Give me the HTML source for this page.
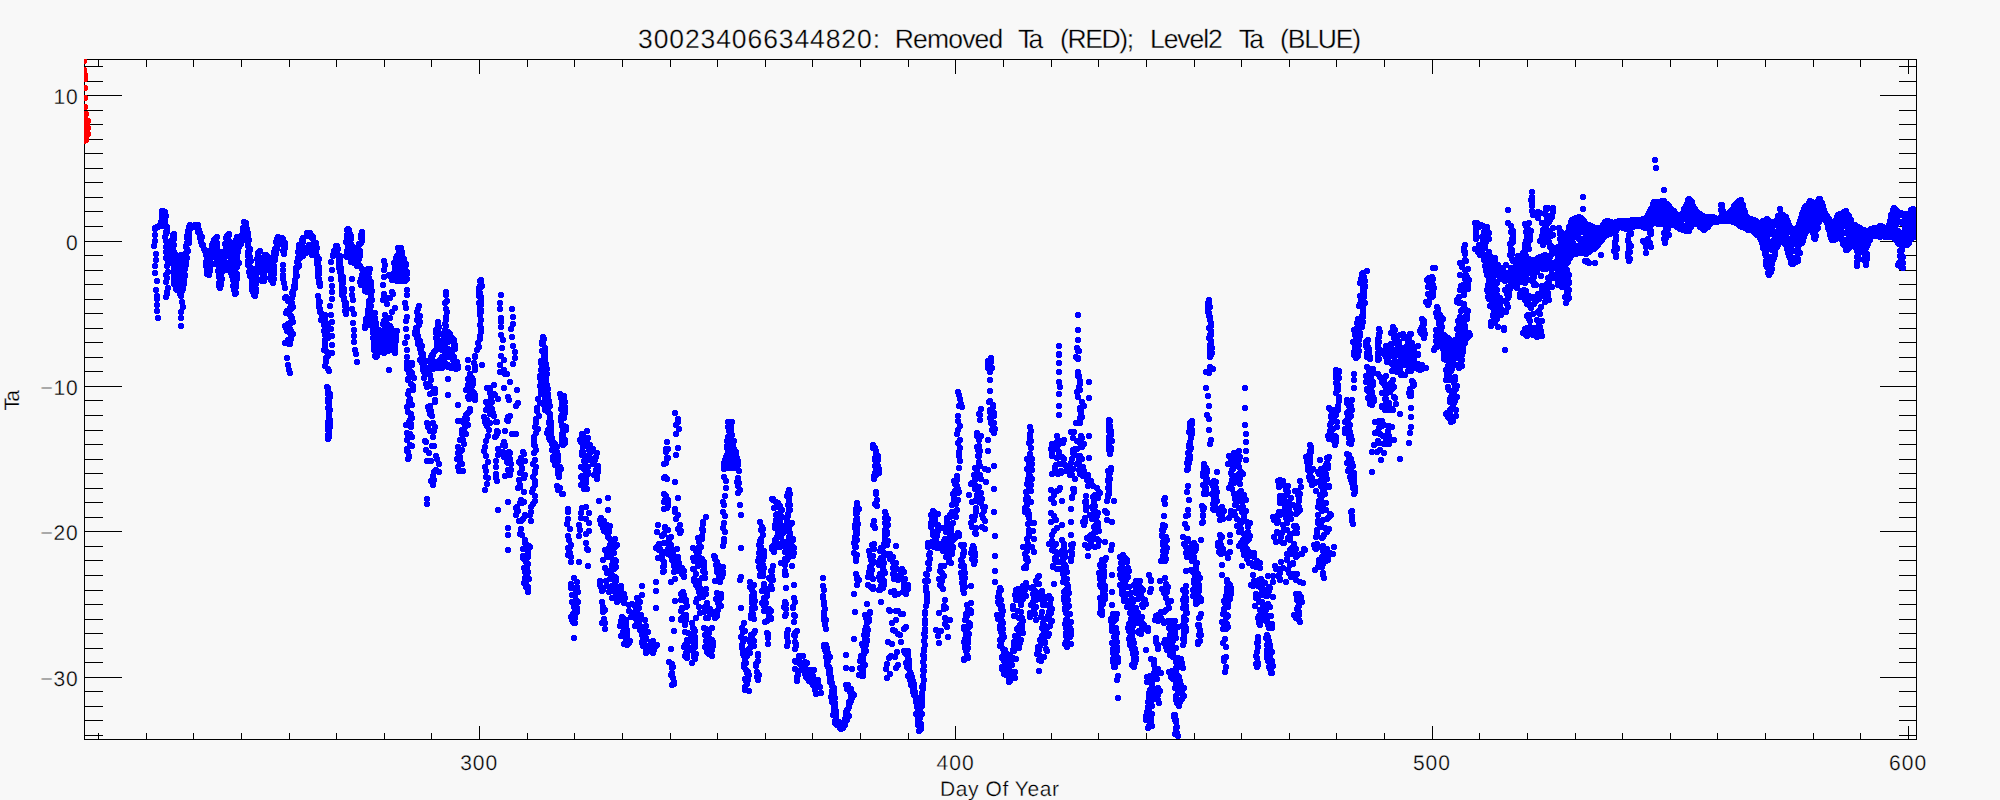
<!DOCTYPE html>
<html><head><meta charset="utf-8"><title>300234066344820: Removed Ta (RED); Level2 Ta (BLUE)</title>
<style>html,body{margin:0;padding:0;background:#f8f8f8;overflow:hidden}svg{display:block}</style></head>
<body>
<svg width="2000" height="800" viewBox="0 0 2000 800" shape-rendering="crispEdges">
<rect width="2000" height="800" fill="#f8f8f8"/>
<defs><clipPath id="pc"><rect x="84" y="59" width="1832" height="680"/></clipPath></defs>
<path d="M84.5 59.5H1916.5V739.5H84.5ZM98.5 739.5v-7M98.5 59.5v7M146.5 739.5v-7M146.5 59.5v7M193.5 739.5v-7M193.5 59.5v7M241.5 739.5v-7M241.5 59.5v7M289.5 739.5v-7M289.5 59.5v7M336.5 739.5v-7M336.5 59.5v7M384.5 739.5v-7M384.5 59.5v7M431.5 739.5v-7M431.5 59.5v7M479.5 739.5v-14M479.5 59.5v14M527.5 739.5v-7M527.5 59.5v7M574.5 739.5v-7M574.5 59.5v7M622.5 739.5v-7M622.5 59.5v7M670.5 739.5v-7M670.5 59.5v7M717.5 739.5v-7M717.5 59.5v7M765.5 739.5v-7M765.5 59.5v7M812.5 739.5v-7M812.5 59.5v7M860.5 739.5v-7M860.5 59.5v7M908.5 739.5v-7M908.5 59.5v7M955.5 739.5v-14M955.5 59.5v14M1003.5 739.5v-7M1003.5 59.5v7M1051.5 739.5v-7M1051.5 59.5v7M1098.5 739.5v-7M1098.5 59.5v7M1146.5 739.5v-7M1146.5 59.5v7M1194.5 739.5v-7M1194.5 59.5v7M1241.5 739.5v-7M1241.5 59.5v7M1289.5 739.5v-7M1289.5 59.5v7M1336.5 739.5v-7M1336.5 59.5v7M1384.5 739.5v-7M1384.5 59.5v7M1432.5 739.5v-14M1432.5 59.5v14M1479.5 739.5v-7M1479.5 59.5v7M1527.5 739.5v-7M1527.5 59.5v7M1575.5 739.5v-7M1575.5 59.5v7M1622.5 739.5v-7M1622.5 59.5v7M1670.5 739.5v-7M1670.5 59.5v7M1717.5 739.5v-7M1717.5 59.5v7M1765.5 739.5v-7M1765.5 59.5v7M1813.5 739.5v-7M1813.5 59.5v7M1860.5 739.5v-7M1860.5 59.5v7M1908.5 739.5v-14M1908.5 59.5v14M84.5 735.5h18M1916.5 735.5h-18M84.5 720.5h18M1916.5 720.5h-18M84.5 706.5h18M1916.5 706.5h-18M84.5 691.5h18M1916.5 691.5h-18M84.5 677.5h37M1916.5 677.5h-37M84.5 662.5h18M1916.5 662.5h-18M84.5 648.5h18M1916.5 648.5h-18M84.5 633.5h18M1916.5 633.5h-18M84.5 619.5h18M1916.5 619.5h-18M84.5 604.5h18M1916.5 604.5h-18M84.5 590.5h18M1916.5 590.5h-18M84.5 575.5h18M1916.5 575.5h-18M84.5 560.5h18M1916.5 560.5h-18M84.5 546.5h18M1916.5 546.5h-18M84.5 531.5h37M1916.5 531.5h-37M84.5 517.5h18M1916.5 517.5h-18M84.5 502.5h18M1916.5 502.5h-18M84.5 488.5h18M1916.5 488.5h-18M84.5 473.5h18M1916.5 473.5h-18M84.5 459.5h18M1916.5 459.5h-18M84.5 444.5h18M1916.5 444.5h-18M84.5 430.5h18M1916.5 430.5h-18M84.5 415.5h18M1916.5 415.5h-18M84.5 400.5h18M1916.5 400.5h-18M84.5 386.5h37M1916.5 386.5h-37M84.5 371.5h18M1916.5 371.5h-18M84.5 357.5h18M1916.5 357.5h-18M84.5 342.5h18M1916.5 342.5h-18M84.5 328.5h18M1916.5 328.5h-18M84.5 313.5h18M1916.5 313.5h-18M84.5 299.5h18M1916.5 299.5h-18M84.5 284.5h18M1916.5 284.5h-18M84.5 270.5h18M1916.5 270.5h-18M84.5 255.5h18M1916.5 255.5h-18M84.5 241.5h37M1916.5 241.5h-37M84.5 226.5h18M1916.5 226.5h-18M84.5 211.5h18M1916.5 211.5h-18M84.5 197.5h18M1916.5 197.5h-18M84.5 182.5h18M1916.5 182.5h-18M84.5 168.5h18M1916.5 168.5h-18M84.5 153.5h18M1916.5 153.5h-18M84.5 139.5h18M1916.5 139.5h-18M84.5 124.5h18M1916.5 124.5h-18M84.5 110.5h18M1916.5 110.5h-18M84.5 95.5h37M1916.5 95.5h-37M84.5 81.5h18M1916.5 81.5h-18M84.5 66.5h18M1916.5 66.5h-18" fill="none" stroke="#000" stroke-width="1"/>
<path d="M158 318h0M157 311h0M157 305h0M157 299h0M157 296h0M156 290h0M157 281h0M155 273h0M155 266h0M156 260h0M156 254h0M154 246h0M155 241h0M155 235h0M155 229h0M155 228h0M157 227h0M158 227h0M159 226h0M161 226h0M162 223h0M161 222h0M163 221h0M162 217h0M163 218h0M162 215h0M162 213h0M162 211h0M163 211h0M165 212h0M165 216h0M166 216h0M165 220h0M164 220h0M165 222h0M165 225h0M166 227h0M167 227h0M167 232h0M166 232h0M167 231h0M166 234h0M165 237h0M166 241h0M168 245h0M166 247h0M166 252h0M167 256h0M166 258h0M168 261h0M168 264h0M167 266h0M168 272h0M166 275h0M167 278h0M166 282h0M168 288h0M167 292h0M167 294h0M166 297h0M168 244h0M169 245h0M167 246h0M170 250h0M169 251h0M170 253h0M171 254h0M172 256h0M172 259h0M170 258h0M172 260h0M173 262h0M173 260h0M173 258h0M173 255h0M171 253h0M173 251h0M172 251h0M173 249h0M172 246h0M171 244h0M173 241h0M173 238h0M174 238h0M174 237h0M173 235h0M174 234h0M173 237h0M174 239h0M173 240h0M172 240h0M172 242h0M174 245h0M173 246h0M174 252h0M173 253h0M174 253h0M175 254h0M174 256h0M175 259h0M176 261h0M173 261h0M175 262h0M174 266h0M174 265h0M175 269h0M174 270h0M174 272h0M176 271h0M174 276h0M175 276h0M175 277h0M175 278h0M174 280h0M175 283h0M176 283h0M174 284h0M177 286h0M176 289h0M177 288h0M177 289h0M177 290h0M177 287h0M176 285h0M176 281h0M178 282h0M176 278h0M177 277h0M177 274h0M177 272h0M177 271h0M177 270h0M177 267h0M176 266h0M177 266h0M179 265h0M179 262h0M180 260h0M179 258h0M181 258h0M181 255h0M180 257h0M181 260h0M179 260h0M179 263h0M181 264h0M182 268h0M181 270h0M182 272h0M183 274h0M182 276h0M182 278h0M181 278h0M181 281h0M182 284h0M182 285h0M180 287h0M183 289h0M181 290h0M182 291h0M180 294h0M181 296h0M182 302h0M183 307h0M181 312h0M181 318h0M181 326h0M183 286h0M184 284h0M182 281h0M184 281h0M183 278h0M182 279h0M185 276h0M184 274h0M185 275h0M184 273h0M184 270h0M185 269h0M185 266h0M186 265h0M184 264h0M186 262h0M185 261h0M184 258h0M187 258h0M185 254h0M186 253h0M188 251h0M187 249h0M186 247h0M186 246h0M189 243h0M187 243h0M189 242h0M187 238h0M189 238h0M187 236h0M189 235h0M188 231h0M189 231h0M189 229h0M189 227h0M190 225h0M191 227h0M191 228h0M192 227h0M194 227h0M195 225h0M196 227h0M198 225h0M197 228h0M197 227h0M199 230h0M199 233h0M198 232h0M200 233h0M201 236h0M202 237h0M200 238h0M201 242h0M201 241h0M203 245h0M202 244h0M202 245h0M204 249h0M205 251h0M205 250h0M207 252h0M207 254h0M206 255h0M207 259h0M209 258h0M208 261h0M206 262h0M209 262h0M209 263h0M208 267h0M206 266h0M207 270h0M208 272h0M207 274h0M209 275h0M210 271h0M208 268h0M209 269h0M210 267h0M210 265h0M208 260h0M210 258h0M211 258h0M209 254h0M211 253h0M211 252h0M212 252h0M211 250h0M213 247h0M212 245h0M212 246h0M213 243h0M214 240h0M215 241h0M215 239h0M217 237h0M216 243h0M217 243h0M217 246h0M217 247h0M216 246h0M216 249h0M218 251h0M217 254h0M216 254h0M218 257h0M217 258h0M218 261h0M218 264h0M218 265h0M219 269h0M220 270h0M218 271h0M221 271h0M219 274h0M219 276h0M219 277h0M221 278h0M221 282h0M219 283h0M221 284h0M219 286h0M220 288h0M220 285h0M221 285h0M220 284h0M220 282h0M220 281h0M222 279h0M221 277h0M221 276h0M222 272h0M222 271h0M223 270h0M222 268h0M222 267h0M222 265h0M221 265h0M223 261h0M223 263h0M224 262h0M225 257h0M224 258h0M223 255h0M223 252h0M224 252h0M226 248h0M227 247h0M226 246h0M225 244h0M227 244h0M227 241h0M227 240h0M227 239h0M226 238h0M227 236h0M229 234h0M229 235h0M228 239h0M229 241h0M228 240h0M230 243h0M231 243h0M231 244h0M230 246h0M230 249h0M230 250h0M230 253h0M230 252h0M232 255h0M230 255h0M231 257h0M231 261h0M231 262h0M232 262h0M231 265h0M232 266h0M231 266h0M233 269h0M232 268h0M234 271h0M231 273h0M233 274h0M232 274h0M232 276h0M234 279h0M233 280h0M234 282h0M234 284h0M235 283h0M233 286h0M235 287h0M234 289h0M235 292h0M236 293h0M235 294h0M235 291h0M234 290h0M236 287h0M236 285h0M236 282h0M235 282h0M236 278h0M237 279h0M235 275h0M237 276h0M237 274h0M235 271h0M235 270h0M234 268h0M237 267h0M237 266h0M237 263h0M236 263h0M237 261h0M237 259h0M235 257h0M237 258h0M237 256h0M236 254h0M238 252h0M236 250h0M237 247h0M236 248h0M238 246h0M237 243h0M236 243h0M236 240h0M237 238h0M237 237h0M238 238h0M239 241h0M238 242h0M239 243h0M241 244h0M239 247h0M239 246h0M240 245h0M240 243h0M242 241h0M241 240h0M244 239h0M242 237h0M242 235h0M243 235h0M244 233h0M243 232h0M245 231h0M244 229h0M243 228h0M245 226h0M245 223h0M244 222h0M246 223h0M246 226h0M246 228h0M247 229h0M246 231h0M247 230h0M248 233h0M247 234h0M247 236h0M248 237h0M247 240h0M249 240h0M248 242h0M248 243h0M248 246h0M250 249h0M250 250h0M248 252h0M249 253h0M248 256h0M250 257h0M249 258h0M248 261h0M251 261h0M249 263h0M248 265h0M249 265h0M250 267h0M250 270h0M249 272h0M251 271h0M251 273h0M252 276h0M250 276h0M252 278h0M252 280h0M253 281h0M252 284h0M253 283h0M253 287h0M254 288h0M252 288h0M252 290h0M253 292h0M255 292h0M254 295h0M255 296h0M255 295h0M255 294h0M256 292h0M256 289h0M255 288h0M255 287h0M256 284h0M255 284h0M255 283h0M255 280h0M257 279h0M255 276h0M256 276h0M255 274h0M257 270h0M255 269h0M257 269h0M258 267h0M258 265h0M258 262h0M257 259h0M259 259h0M259 258h0M258 255h0M258 254h0M260 251h0M258 253h0M260 258h0M258 257h0M261 261h0M260 260h0M260 262h0M260 264h0M263 264h0M260 265h0M261 269h0M260 271h0M263 272h0M262 273h0M263 274h0M263 275h0M263 278h0M262 279h0M264 280h0M262 281h0M264 281h0M263 281h0M263 279h0M265 278h0M264 274h0M264 273h0M264 270h0M265 268h0M264 264h0M266 260h0M266 261h0M265 259h0M267 258h0M265 255h0M266 255h0M267 256h0M268 257h0M269 260h0M268 261h0M268 262h0M271 264h0M270 265h0M269 267h0M271 268h0M270 268h0M270 271h0M272 273h0M271 275h0M270 278h0M271 278h0M273 279h0M273 283h0M271 280h0M271 279h0M272 280h0M274 279h0M273 276h0M274 274h0M273 275h0M273 272h0M274 272h0M272 268h0M274 269h0M272 267h0M274 266h0M273 264h0M275 260h0M275 258h0M274 257h0M274 256h0M276 254h0M274 252h0M275 253h0M277 249h0M275 249h0M277 246h0M278 245h0M276 242h0M278 242h0M279 240h0M277 239h0M278 237h0M282 238h0M283 239h0M283 240h0M283 244h0M285 243h0M285 245h0M284 249h0M285 248h0M283 251h0M284 251h0M284 254h0M207 266h0M208 263h0M211 264h0M214 264h0M213 264h0M217 262h0M217 264h0M219 263h0M220 267h0M221 268h0M222 269h0M225 269h0M227 270h0M227 267h0M226 267h0M229 264h0M230 262h0M232 263h0M233 263h0M239 263h0M238 262h0M283 265h0M283 270h0M283 275h0M283 279h0M284 283h0M285 288h0M286 297h0M285 298h0M288 301h0M290 300h0M291 304h0M292 303h0M292 304h0M293 307h0M291 309h0M290 308h0M287 311h0M287 313h0M286 313h0M289 313h0M289 314h0M291 316h0M291 317h0M292 318h0M292 320h0M293 322h0M290 323h0M290 324h0M288 324h0M288 325h0M285 326h0M286 328h0M287 331h0M290 329h0M291 331h0M290 332h0M290 333h0M293 334h0M291 337h0M291 339h0M290 340h0M288 341h0M288 340h0M285 343h0M289 344h0M290 344h0M287 358h0M288 365h0M289 370h0M292 298h0M293 295h0M292 293h0M293 291h0M293 292h0M295 288h0M295 286h0M294 286h0M295 284h0M295 282h0M295 280h0M296 276h0M297 276h0M296 273h0M296 271h0M296 268h0M298 267h0M299 266h0M299 265h0M297 262h0M298 260h0M300 258h0M298 258h0M299 254h0M300 254h0M298 252h0M299 251h0M301 249h0M299 247h0M299 245h0M301 246h0M303 242h0M302 240h0M303 238h0M307 236h0M307 233h0M310 233h0M311 235h0M313 237h0M312 238h0M313 239h0M314 242h0M316 243h0M314 246h0M316 246h0M317 248h0M316 249h0M315 251h0M316 253h0M316 254h0M317 256h0M316 256h0M317 260h0M319 259h0M318 260h0M317 264h0M318 263h0M318 267h0M319 267h0M319 268h0M319 270h0M318 271h0M318 274h0M319 274h0M318 275h0M318 277h0M319 279h0M320 283h0M319 283h0M320 285h0M320 286h0M303 256h0M305 253h0M306 253h0M304 250h0M305 249h0M306 248h0M307 248h0M309 245h0M310 245h0M310 248h0M309 249h0M312 250h0M312 251h0M312 255h0M318 296h0M319 301h0M320 302h0M319 302h0M319 305h0M319 307h0M320 309h0M320 311h0M320 310h0M320 312h0M322 314h0M322 316h0M322 318h0M321 320h0M324 319h0M323 318h0M325 317h0M325 315h0M325 316h0M325 319h0M325 320h0M324 324h0M324 325h0M325 325h0M325 327h0M324 331h0M326 330h0M326 327h0M327 324h0M329 328h0M328 329h0M327 329h0M327 332h0M327 335h0M325 335h0M328 337h0M328 338h0M325 340h0M325 344h0M325 348h0M324 350h0M326 351h0M331 353h0M328 356h0M326 358h0M326 362h0M325 366h0M328 369h0M329 371h0M332 353h0M332 345h0M332 336h0M331 329h0M332 322h0M331 315h0M330 306h0M332 299h0M332 292h0M332 286h0M331 279h0M332 270h0M331 262h0M333 256h0M333 255h0M334 254h0M334 251h0M336 251h0M336 248h0M337 246h0M336 246h0M337 249h0M338 249h0M337 250h0M337 252h0M338 256h0M340 256h0M340 257h0M339 261h0M340 260h0M340 264h0M339 265h0M340 267h0M341 268h0M339 268h0M341 269h0M340 272h0M341 272h0M341 273h0M341 277h0M343 277h0M341 280h0M343 280h0M343 283h0M342 283h0M342 287h0M344 289h0M342 290h0M344 292h0M342 293h0M342 295h0M343 296h0M344 298h0M344 300h0M346 303h0M345 303h0M346 305h0M345 306h0M347 309h0M345 311h0M346 312h0M346 313h0M346 314h0M347 257h0M347 256h0M346 256h0M347 254h0M347 251h0M349 249h0M348 246h0M348 247h0M349 244h0M346 242h0M347 240h0M347 239h0M347 237h0M348 237h0M347 235h0M348 231h0M349 230h0M347 230h0M348 229h0M348 230h0M348 232h0M349 232h0M350 234h0M351 236h0M351 239h0M349 239h0M349 243h0M351 244h0M351 246h0M352 246h0M352 249h0M352 251h0M351 252h0M350 252h0M352 256h0M353 256h0M351 257h0M351 260h0M351 262h0M354 263h0M352 279h0M352 289h0M352 295h0M353 300h0M352 309h0M354 314h0M353 323h0M354 330h0M354 336h0M354 342h0M355 350h0M356 354h0M357 362h0M362 232h0M361 235h0M362 235h0M361 238h0M362 238h0M362 239h0M362 241h0M359 244h0M361 243h0M359 245h0M358 247h0M360 251h0M358 251h0M360 252h0M358 255h0M357 257h0M360 256h0M357 259h0M359 259h0M358 261h0M358 265h0M357 266h0M358 264h0M359 266h0M360 266h0M362 269h0M363 272h0M362 275h0M363 275h0M363 277h0M361 279h0M360 282h0M363 281h0M361 285h0M363 284h0M363 283h0M364 281h0M365 279h0M365 278h0M365 276h0M366 274h0M367 271h0M369 271h0M368 270h0M368 269h0M369 270h0M370 269h0M369 273h0M367 273h0M368 275h0M369 278h0M368 280h0M366 281h0M367 282h0M367 283h0M366 285h0M366 287h0M365 290h0M365 291h0M367 292h0M367 291h0M367 289h0M369 287h0M369 288h0M371 286h0M370 283h0M371 282h0M370 281h0M371 283h0M371 285h0M371 288h0M369 289h0M372 291h0M370 290h0M369 292h0M371 294h0M371 297h0M371 298h0M372 300h0M369 301h0M369 304h0M371 306h0M369 306h0M370 309h0M368 310h0M369 311h0M368 313h0M369 314h0M368 315h0M367 318h0M366 319h0M366 322h0M366 323h0M365 326h0M366 326h0M365 328h0M367 325h0M368 323h0M369 321h0M368 319h0M370 321h0M371 318h0M372 316h0M373 314h0M372 313h0M373 313h0M375 313h0M373 317h0M374 316h0M375 318h0M373 321h0M374 323h0M376 323h0M376 327h0M374 327h0M375 330h0M372 321h0M373 320h0M372 324h0M372 326h0M373 327h0M375 328h0M373 328h0M374 329h0M373 330h0M373 333h0M374 335h0M373 338h0M374 340h0M374 342h0M376 343h0M374 345h0M374 347h0M375 348h0M375 350h0M374 350h0M376 354h0M377 354h0M376 357h0M377 356h0M375 356h0M376 356h0M377 353h0M378 353h0M376 351h0M376 349h0M378 347h0M377 346h0M379 344h0M376 342h0M378 340h0M377 338h0M379 336h0M379 332h0M380 332h0M379 330h0M378 334h0M381 336h0M381 337h0M381 339h0M380 342h0M382 341h0M382 343h0M381 345h0M381 347h0M383 350h0M383 352h0M384 353h0M381 351h0M382 349h0M384 346h0M382 345h0M383 344h0M383 341h0M384 341h0M382 339h0M383 338h0M383 336h0M385 334h0M385 333h0M385 332h0M384 330h0M385 326h0M383 324h0M385 324h0M384 321h0M386 320h0M386 322h0M384 323h0M387 324h0M386 326h0M386 329h0M385 331h0M387 331h0M386 333h0M387 335h0M386 334h0M388 336h0M387 337h0M387 341h0M388 341h0M387 345h0M388 345h0M389 347h0M387 347h0M388 351h0M387 349h0M387 348h0M387 344h0M388 346h0M387 342h0M388 340h0M387 338h0M388 339h0M388 337h0M390 335h0M389 332h0M389 331h0M390 328h0M391 328h0M390 326h0M389 327h0M390 329h0M390 327h0M391 331h0M392 330h0M392 334h0M392 336h0M393 337h0M391 338h0M391 340h0M392 341h0M391 342h0M392 344h0M393 346h0M394 350h0M394 351h0M395 353h0M395 352h0M393 350h0M395 347h0M395 348h0M394 344h0M395 346h0M394 343h0M396 341h0M396 339h0M394 339h0M396 336h0M395 334h0M395 333h0M397 331h0M384 261h0M385 265h0M384 270h0M384 277h0M383 285h0M384 294h0M384 298h0M389 275h0M392 276h0M391 277h0M392 279h0M393 279h0M393 278h0M395 278h0M396 276h0M396 272h0M394 273h0M396 269h0M395 269h0M395 265h0M396 267h0M396 262h0M396 263h0M399 262h0M397 260h0M396 258h0M397 256h0M399 256h0M400 253h0M399 253h0M398 248h0M400 248h0M401 248h0M399 250h0M402 252h0M401 253h0M402 255h0M401 257h0M403 259h0M404 259h0M403 262h0M406 264h0M406 265h0M404 268h0M404 267h0M405 270h0M407 272h0M404 272h0M407 274h0M405 278h0M407 279h0M404 281h0M405 281h0M404 279h0M400 281h0M400 279h0M397 281h0M396 280h0M392 280h0M407 290h0M407 295h0M405 303h0M406 308h0M407 317h0M406 321h0M406 329h0M407 337h0M405 343h0M407 350h0M407 357h0M407 365h0M383 300h0M387 298h0M392 292h0M393 294h0M390 298h0M387 304h0M395 308h0M392 312h0M385 315h0M390 318h0M419 306h0M418 309h0M417 312h0M418 315h0M420 316h0M419 319h0M418 319h0M417 320h0M420 322h0M419 325h0M416 328h0M417 330h0M417 331h0M417 332h0M415 332h0M415 334h0M418 337h0M418 336h0M417 338h0M418 341h0M420 341h0M418 344h0M421 345h0M420 345h0M422 346h0M421 349h0M420 349h0M421 353h0M423 354h0M422 358h0M423 357h0M424 360h0M424 361h0M422 363h0M424 365h0M423 367h0M423 370h0M424 371h0M412 365h0M414 378h0M446 292h0M446 295h0M447 301h0M445 303h0M446 309h0M447 312h0M446 317h0M446 320h0M445 324h0M446 326h0M438 322h0M438 323h0M438 325h0M439 327h0M438 329h0M437 330h0M438 331h0M439 334h0M437 337h0M436 338h0M437 339h0M438 341h0M437 344h0M438 343h0M437 347h0M438 348h0M437 348h0M436 350h0M434 352h0M432 355h0M433 355h0M432 358h0M431 357h0M431 359h0M432 363h0M431 362h0M431 364h0M432 368h0M430 369h0M428 370h0M427 369h0M429 372h0M426 373h0M445 330h0M445 331h0M448 333h0M448 332h0M450 334h0M450 335h0M452 338h0M453 339h0M454 340h0M454 341h0M454 344h0M455 345h0M455 349h0M454 348h0M454 349h0M452 351h0M452 353h0M451 355h0M453 356h0M454 357h0M453 360h0M455 362h0M457 362h0M457 365h0M457 364h0M458 366h0M458 368h0M456 369h0M437 341h0M442 341h0M443 345h0M442 344h0M443 344h0M444 347h0M446 349h0M448 349h0M451 350h0M449 351h0M448 351h0M445 354h0M446 354h0M445 356h0M442 357h0M443 357h0M441 359h0M439 361h0M440 361h0M443 363h0M444 362h0M447 365h0M448 365h0M446 364h0M443 365h0M442 368h0M441 366h0M440 368h0M439 368h0M435 367h0M435 368h0M433 369h0M468 360h0M468 368h0M475 370h0M482 365h0M481 280h0M480 281h0M481 281h0M481 283h0M482 286h0M480 286h0M479 288h0M480 288h0M479 292h0M480 293h0M480 295h0M479 296h0M480 296h0M481 297h0M481 301h0M480 303h0M479 303h0M481 304h0M481 305h0M480 308h0M480 311h0M481 310h0M481 312h0M480 315h0M480 314h0M481 320h0M480 325h0M481 328h0M481 332h0M480 336h0M480 339h0M478 343h0M479 347h0M477 350h0M475 356h0M475 357h0M474 363h0M475 366h0M501 295h0M500 303h0M500 309h0M501 318h0M501 322h0M501 327h0M501 335h0M503 340h0M502 348h0M501 356h0M500 365h0M500 372h0M512 309h0M513 317h0M513 324h0M511 329h0M512 337h0M513 346h0M515 352h0M515 358h0M513 364h0M543 337h0M544 339h0M543 342h0M542 342h0M542 344h0M543 344h0M545 348h0M542 351h0M544 352h0M545 352h0M544 355h0M545 356h0M544 356h0M545 359h0M544 360h0M545 362h0M543 363h0M546 364h0M545 366h0M546 367h0M545 371h0M545 372h0M543 374h0M544 377h0M394 263h0M395 263h0M396 261h0M399 261h0M401 263h0M402 262h0M403 264h0M401 264h0M400 263h0M401 265h0M398 266h0M397 267h0M396 270h0M399 271h0M402 271h0M404 270h0M404 269h0M405 269h0M403 272h0M402 274h0M399 274h0M399 275h0M395 277h0M397 276h0M397 277h0M400 276h0M399 277h0M403 279h0M405 279h0M436 330h0M437 332h0M436 333h0M438 332h0M441 334h0M444 337h0M446 336h0M445 336h0M449 339h0M447 338h0M450 338h0M450 339h0M449 341h0M448 342h0M445 344h0M440 346h0M440 345h0M439 348h0M442 350h0M441 349h0M444 351h0M446 353h0M449 353h0M450 355h0M451 356h0M452 356h0M447 356h0M448 357h0M444 359h0M442 359h0M441 360h0M438 362h0M437 362h0M436 362h0M437 364h0M440 364h0M439 364h0M441 365h0M446 366h0M448 367h0M450 366h0M451 368h0M454 366h0M407 362h0M412 363h0M409 366h0M407 369h0M410 371h0M409 373h0M412 373h0M410 377h0M408 379h0M408 380h0M411 384h0M412 385h0M413 386h0M413 390h0M409 391h0M408 394h0M410 399h0M409 401h0M410 403h0M409 405h0M412 405h0M407 407h0M408 412h0M411 414h0M412 418h0M411 416h0M409 422h0M410 420h0M411 424h0M406 425h0M411 427h0M407 433h0M408 435h0M410 434h0M412 437h0M407 440h0M410 445h0M412 446h0M407 449h0M408 452h0M407 451h0M409 456h0M409 457h0M408 459h0M420 360h0M429 361h0M423 363h0M425 367h0M424 372h0M427 374h0M430 375h0M424 378h0M431 380h0M430 386h0M426 384h0M435 389h0M427 387h0M435 393h0M433 392h0M430 394h0M435 400h0M435 402h0M428 407h0M430 406h0M429 410h0M431 411h0M430 414h0M432 416h0M433 423h0M427 423h0M428 427h0M435 427h0M434 431h0M430 431h0M433 437h0M425 441h0M426 442h0M432 446h0M434 446h0M429 453h0M426 450h0M436 456h0M437 459h0M431 461h0M427 461h0M439 464h0M436 470h0M439 472h0M434 472h0M433 476h0M434 480h0M431 481h0M433 485h0M427 499h0M427 504h0M448 379h0M448 395h0M458 405h0M458 421h0M470 374h0M472 378h0M468 379h0M469 378h0M472 381h0M473 380h0M469 382h0M473 384h0M468 386h0M472 386h0M468 385h0M466 390h0M472 391h0M468 390h0M474 393h0M470 392h0M473 396h0M475 395h0M469 399h0M468 397h0M475 398h0M475 400h0M470 409h0M470 411h0M468 413h0M466 415h0M465 418h0M467 419h0M462 421h0M463 422h0M468 425h0M465 427h0M462 430h0M464 431h0M462 434h0M466 434h0M460 440h0M463 440h0M464 444h0M458 447h0M462 450h0M461 451h0M458 453h0M460 459h0M460 457h0M457 459h0M460 462h0M462 464h0M458 467h0M459 471h0M463 471h0M494 385h0M487 388h0M490 388h0M490 390h0M490 392h0M494 394h0M490 393h0M491 397h0M495 395h0M498 399h0M491 400h0M486 402h0M487 403h0M492 402h0M488 405h0M490 406h0M488 408h0M492 409h0M486 410h0M491 412h0M490 414h0M493 413h0M484 417h0M494 416h0M487 420h0M485 422h0M496 422h0M497 422h0M490 423h0M486 424h0M487 426h0M489 430h0M498 432h0M497 431h0M497 434h0M488 436h0M495 437h0M496 436h0M504 360h0M504 370h0M505 374h0M507 374h0M510 382h0M504 388h0M517 390h0M508 397h0M509 400h0M518 403h0M516 406h0M510 416h0M508 417h0M508 421h0M507 420h0M505 431h0M512 434h0M516 434h0M486 441h0M485 447h0M484 451h0M486 456h0M488 462h0M485 467h0M486 471h0M486 477h0M488 478h0M487 484h0M485 490h0M498 449h0M498 455h0M496 461h0M496 467h0M496 474h0M496 478h0M497 481h0M498 510h0M508 502h0M508 528h0M508 535h0M508 550h0M504 442h0M505 445h0M503 445h0M505 446h0M509 452h0M503 452h0M510 453h0M504 457h0M507 456h0M510 459h0M507 462h0M509 462h0M508 463h0M511 464h0M511 470h0M509 470h0M508 470h0M510 474h0M510 475h0M505 476h0M523 452h0M524 454h0M521 458h0M519 462h0M525 461h0M521 464h0M522 468h0M522 469h0M520 473h0M525 475h0M524 478h0M519 480h0M520 485h0M520 487h0M518 488h0M524 492h0M521 500h0M520 503h0M521 503h0M524 502h0M522 503h0M517 507h0M516 508h0M517 512h0M518 511h0M516 515h0M525 515h0M525 516h0M523 519h0M519 521h0M521 521h0M521 529h0M520 534h0M522 535h0M525 540h0M525 543h0M529 546h0M530 547h0M528 550h0M528 557h0M541 361h0M541 363h0M542 366h0M542 368h0M542 373h0M540 376h0M540 378h0M541 383h0M540 386h0M541 390h0M541 394h0M538 399h0M540 403h0M537 408h0M537 411h0M539 416h0M536 419h0M536 423h0M535 427h0M538 429h0M536 433h0M534 437h0M534 441h0M534 445h0M535 446h0M536 450h0M534 453h0M535 460h0M533 464h0M536 467h0M535 471h0M535 473h0M533 477h0M535 481h0M535 485h0M533 489h0M532 492h0M535 496h0M535 501h0M533 504h0M531 507h0M531 512h0M530 515h0M531 521h0M543 361h0M542 363h0M541 362h0M544 363h0M543 366h0M545 365h0M544 367h0M544 368h0M547 369h0M541 370h0M544 373h0M547 374h0M545 373h0M543 376h0M545 376h0M544 376h0M546 379h0M545 381h0M546 380h0M546 382h0M547 385h0M545 385h0M547 387h0M545 389h0M548 389h0M543 390h0M547 393h0M546 393h0M547 395h0M545 396h0M548 394h0M548 396h0M545 399h0M547 399h0M549 401h0M545 402h0M546 404h0M547 405h0M544 405h0M550 406h0M547 408h0M545 409h0M545 410h0M548 411h0M548 412h0M550 414h0M550 416h0M550 418h0M550 419h0M550 421h0M551 422h0M550 422h0M549 422h0M549 423h0M551 425h0M550 426h0M551 428h0M548 430h0M551 429h0M549 432h0M547 433h0M551 432h0M551 435h0M550 434h0M549 437h0M552 438h0M549 438h0M550 440h0M551 440h0M553 442h0M555 444h0M553 445h0M552 444h0M555 445h0M557 447h0M556 450h0M552 450h0M557 452h0M555 451h0M555 454h0M558 455h0M553 457h0M558 457h0M553 460h0M556 461h0M558 461h0M555 463h0M555 465h0M557 465h0M560 467h0M557 466h0M558 468h0M561 469h0M558 469h0M559 472h0M558 472h0M559 476h0M558 474h0M559 477h0M557 486h0M560 488h0M558 490h0M562 494h0M563 494h0M568 509h0M568 512h0M568 519h0M567 524h0M570 529h0M568 536h0M569 540h0M568 548h0M569 552h0M568 555h0M560 394h0M564 396h0M561 398h0M564 398h0M563 401h0M562 403h0M565 402h0M563 405h0M562 407h0M565 407h0M565 408h0M561 409h0M565 412h0M565 413h0M564 415h0M562 415h0M561 417h0M564 418h0M561 421h0M562 425h0M562 426h0M564 426h0M566 427h0M563 429h0M566 430h0M563 432h0M562 434h0M563 435h0M562 438h0M562 439h0M565 440h0M565 443h0M562 443h0M563 445h0M587 431h0M582 434h0M583 436h0M582 438h0M588 438h0M580 440h0M581 442h0M587 441h0M587 443h0M586 446h0M583 447h0M583 452h0M582 452h0M582 455h0M587 456h0M589 455h0M587 457h0M584 461h0M588 460h0M585 464h0M585 462h0M581 467h0M584 469h0M588 467h0M586 471h0M588 472h0M587 472h0M588 474h0M581 477h0M582 476h0M586 479h0M583 482h0M583 480h0M581 485h0M586 483h0M584 487h0M584 489h0M587 489h0M590 445h0M593 449h0M593 451h0M589 450h0M591 452h0M597 453h0M596 457h0M593 459h0M595 460h0M592 461h0M598 466h0M593 464h0M598 468h0M596 470h0M598 472h0M597 475h0M594 475h0M597 478h0M597 479h0M599 501h0M608 498h0M608 510h0M582 508h0M581 513h0M581 518h0M579 525h0M580 530h0M579 536h0M586 507h0M589 513h0M586 519h0M589 523h0M589 531h0M586 534h0M586 543h0M587 549h0M601 518h0M600 520h0M604 521h0M601 524h0M603 527h0M607 525h0M610 526h0M603 528h0M609 529h0M604 531h0M607 533h0M609 532h0M608 537h0M608 536h0M609 538h0M615 539h0M611 543h0M611 546h0M617 545h0M610 545h0M615 547h0M611 549h0M608 549h0M610 551h0M607 557h0M608 555h0M675 413h0M678 419h0M678 422h0M676 425h0M679 429h0M676 434h0M667 442h0M666 449h0M668 449h0M666 452h0M668 458h0M667 458h0M664 464h0M666 463h0M678 448h0M676 455h0M678 498h0M675 482h0M665 477h0M664 478h0M667 479h0M664 494h0M666 496h0M668 500h0M664 502h0M665 500h0M668 502h0M668 506h0M667 508h0M664 509h0M675 509h0M675 512h0M678 515h0M676 519h0M680 525h0M679 528h0M678 529h0M681 531h0M680 533h0M665 527h0M658 525h0M665 528h0M657 532h0M668 530h0M664 534h0M662 536h0M671 537h0M669 538h0M659 544h0M669 542h0M664 543h0M656 548h0M657 548h0M668 549h0M657 547h0M670 549h0M670 550h0M673 555h0M668 554h0M674 558h0M706 517h0M703 522h0M703 524h0M702 529h0M703 530h0M703 531h0M702 536h0M702 539h0M698 538h0M699 542h0M698 548h0M699 549h0M699 552h0M732 422h0M728 422h0M729 423h0M731 426h0M729 425h0M728 427h0M731 428h0M729 430h0M731 430h0M729 431h0M730 432h0M732 435h0M730 435h0M731 437h0M728 437h0M730 437h0M730 440h0M729 440h0M731 443h0M730 443h0M732 443h0M732 445h0M729 446h0M729 448h0M731 450h0M731 440h0M727 441h0M728 443h0M728 445h0M727 446h0M727 448h0M728 449h0M730 450h0M728 452h0M728 453h0M728 454h0M729 454h0M727 455h0M727 457h0M727 458h0M725 460h0M725 461h0M728 461h0M727 463h0M724 463h0M726 466h0M724 466h0M725 468h0M724 469h0M731 441h0M730 441h0M734 441h0M733 443h0M733 445h0M732 446h0M733 446h0M733 449h0M734 449h0M734 451h0M735 452h0M736 452h0M736 453h0M736 454h0M735 456h0M737 458h0M733 457h0M733 459h0M734 461h0M738 461h0M736 462h0M734 464h0M738 465h0M736 466h0M735 468h0M737 468h0M739 471h0M733 456h0M726 457h0M732 457h0M735 459h0M729 460h0M736 463h0M726 463h0M733 465h0M727 468h0M731 468h0M724 477h0M726 481h0M726 488h0M725 496h0M723 502h0M724 505h0M723 512h0M725 516h0M724 523h0M723 528h0M725 532h0M724 539h0M724 542h0M723 546h0M738 478h0M737 482h0M739 483h0M738 486h0M740 490h0M738 493h0M740 505h0M741 515h0M741 548h0M760 522h0M762 527h0M763 529h0M761 530h0M763 535h0M761 539h0M760 541h0M761 542h0M760 544h0M761 547h0M761 549h0M762 554h0M760 558h0M773 499h0M772 499h0M773 500h0M778 503h0M776 502h0M780 506h0M774 508h0M777 507h0M781 511h0M782 510h0M776 515h0M777 514h0M781 517h0M782 517h0M777 519h0M776 520h0M780 521h0M780 524h0M775 525h0M775 528h0M779 528h0M782 529h0M778 532h0M780 533h0M779 536h0M779 535h0M777 537h0M775 540h0M776 542h0M780 545h0M774 545h0M779 546h0M772 547h0M774 547h0M772 549h0M774 552h0M789 490h0M790 494h0M788 493h0M789 498h0M787 496h0M789 499h0M789 502h0M790 505h0M788 505h0M789 509h0M790 510h0M788 514h0M788 516h0M788 515h0M787 517h0M787 520h0M791 524h0M792 523h0M789 528h0M788 526h0M787 528h0M790 533h0M789 537h0M790 537h0M793 540h0M793 539h0M788 542h0M790 544h0M792 546h0M793 549h0M794 548h0M791 550h0M786 518h0M787 525h0M786 525h0M781 532h0M788 531h0M783 533h0M781 537h0M783 542h0M785 542h0M785 543h0M787 547h0M781 545h0M785 552h0M787 550h0M579 562h0M588 550h0M588 566h0M574 638h0M642 586h0M642 595h0M656 582h0M656 591h0M656 608h0M671 582h0M675 601h0M672 619h0M674 631h0M671 649h0M696 618h0M712 628h0M741 608h0M792 566h0M794 585h0M786 588h0M846 655h0M846 668h0M852 669h0M854 594h0M855 612h0M867 604h0M854 639h0M881 602h0M971 586h0M995 556h0M995 571h0M995 582h0M527 545h0M526 545h0M523 549h0M527 548h0M528 551h0M528 554h0M523 556h0M527 557h0M524 559h0M523 558h0M526 561h0M526 562h0M528 564h0M527 568h0M524 568h0M526 570h0M526 569h0M528 572h0M525 572h0M527 574h0M527 576h0M529 579h0M525 578h0M524 583h0M526 583h0M525 584h0M528 587h0M526 587h0M528 589h0M528 592h0M528 591h0M571 545h0M570 547h0M570 553h0M571 557h0M571 562h0M574 578h0M577 582h0M571 584h0M571 585h0M577 587h0M571 588h0M573 588h0M576 589h0M575 594h0M578 592h0M572 595h0M575 595h0M576 600h0M572 602h0M578 602h0M577 602h0M575 606h0M574 607h0M575 607h0M577 608h0M575 611h0M573 614h0M577 612h0M575 616h0M571 617h0M575 618h0M572 620h0M573 622h0M575 623h0M574 623h0M574 622h0M613 546h0M613 545h0M610 548h0M605 550h0M612 551h0M607 550h0M614 553h0M609 555h0M607 555h0M609 554h0M611 555h0M615 560h0M609 557h0M603 560h0M613 561h0M616 561h0M615 562h0M612 565h0M612 566h0M616 567h0M614 569h0M605 568h0M609 571h0M607 573h0M612 575h0M615 577h0M616 578h0M612 579h0M614 580h0M610 579h0M616 581h0M606 581h0M607 586h0M612 586h0M616 586h0M621 586h0M614 587h0M615 590h0M609 592h0M621 589h0M611 591h0M620 593h0M616 594h0M624 594h0M619 596h0M612 598h0M625 598h0M617 600h0M622 600h0M617 602h0M624 603h0M600 581h0M600 582h0M601 587h0M600 585h0M603 588h0M603 590h0M602 591h0M602 602h0M603 607h0M605 610h0M603 611h0M603 612h0M604 619h0M605 623h0M602 623h0M605 629h0M622 617h0M623 618h0M626 620h0M621 621h0M626 621h0M624 622h0M623 624h0M621 624h0M626 625h0M620 626h0M624 628h0M627 630h0M623 632h0M627 633h0M627 635h0M625 635h0M627 636h0M621 636h0M626 640h0M627 641h0M630 641h0M624 644h0M626 643h0M629 643h0M627 645h0M638 600h0M637 598h0M639 601h0M632 604h0M640 602h0M637 606h0M634 605h0M636 607h0M629 605h0M629 611h0M639 608h0M637 612h0M635 612h0M634 613h0M633 615h0M636 618h0M635 615h0M631 617h0M641 615h0M641 618h0M635 618h0M642 619h0M645 620h0M637 621h0M639 624h0M635 626h0M642 627h0M637 624h0M646 626h0M640 627h0M640 630h0M644 631h0M644 629h0M645 634h0M641 631h0M648 632h0M642 635h0M646 638h0M643 639h0M646 639h0M642 642h0M644 643h0M645 645h0M653 641h0M651 642h0M642 643h0M643 646h0M651 647h0M653 646h0M654 650h0M646 650h0M646 652h0M653 653h0M646 653h0M653 649h0M651 651h0M649 647h0M648 648h0M657 645h0M655 647h0M660 549h0M659 550h0M663 552h0M662 554h0M658 558h0M659 558h0M662 558h0M662 559h0M664 562h0M664 566h0M664 565h0M663 567h0M664 571h0M663 572h0M671 545h0M669 545h0M677 549h0M674 550h0M668 551h0M671 553h0M671 556h0M678 557h0M672 560h0M675 561h0M678 558h0M674 559h0M674 565h0M674 566h0M679 563h0M682 568h0M678 566h0M683 570h0M677 571h0M674 572h0M684 571h0M682 574h0M684 577h0M684 576h0M675 579h0M683 592h0M681 594h0M683 595h0M683 596h0M684 595h0M682 598h0M683 599h0M686 600h0M681 600h0M686 602h0M686 607h0M687 606h0M682 608h0M682 609h0M681 611h0M686 615h0M686 616h0M683 617h0M681 619h0M686 620h0M681 620h0M685 621h0M684 621h0M685 625h0M669 662h0M672 664h0M673 667h0M672 668h0M672 673h0M671 675h0M673 678h0M674 682h0M674 684h0M672 685h0M685 632h0M688 633h0M691 634h0M692 636h0M691 637h0M691 638h0M687 641h0M693 642h0M687 640h0M687 642h0M685 645h0M687 646h0M684 647h0M695 647h0M693 647h0M692 650h0M688 651h0M686 653h0M696 654h0M694 653h0M685 656h0M687 655h0M694 657h0M687 658h0M695 659h0M692 663h0M692 623h0M694 629h0M693 628h0M695 631h0M692 635h0M695 637h0M693 637h0M695 640h0M695 644h0M701 547h0M699 548h0M693 548h0M696 549h0M696 551h0M698 553h0M698 554h0M697 553h0M699 557h0M693 558h0M702 559h0M698 561h0M704 562h0M694 561h0M701 565h0M698 566h0M704 565h0M693 569h0M694 569h0M704 569h0M703 571h0M705 573h0M696 574h0M702 578h0M705 578h0M694 579h0M696 582h0M698 581h0M694 581h0M699 583h0M698 588h0M696 585h0M706 589h0M700 588h0M702 591h0M699 592h0M701 591h0M706 594h0M703 597h0M699 598h0M702 596h0M697 599h0M696 602h0M707 604h0M707 605h0M707 603h0M705 607h0M699 607h0M706 607h0M710 609h0M710 612h0M704 612h0M700 613h0M710 614h0M706 618h0M708 618h0M707 618h0M704 628h0M706 629h0M709 630h0M709 633h0M705 635h0M708 637h0M708 638h0M707 637h0M710 639h0M707 639h0M706 641h0M710 642h0M708 646h0M705 647h0M707 651h0M711 651h0M709 652h0M707 652h0M709 654h0M712 656h0M714 556h0M715 558h0M715 557h0M715 559h0M717 563h0M717 562h0M716 565h0M723 567h0M719 566h0M718 569h0M717 569h0M723 572h0M723 574h0M717 572h0M720 575h0M719 576h0M722 577h0M715 581h0M720 582h0M717 593h0M719 594h0M721 594h0M721 598h0M719 600h0M716 599h0M719 601h0M718 603h0M721 606h0M719 607h0M718 610h0M717 611h0M715 612h0M717 615h0M717 616h0M715 618h0M712 640h0M713 642h0M713 646h0M712 650h0M711 649h0M741 577h0M740 580h0M744 623h0M742 628h0M743 632h0M745 631h0M741 637h0M745 639h0M743 641h0M743 642h0M742 645h0M742 648h0M743 650h0M746 651h0M743 654h0M747 656h0M744 656h0M745 659h0M746 663h0M744 664h0M744 667h0M746 670h0M748 672h0M747 673h0M749 675h0M745 679h0M748 680h0M746 681h0M747 684h0M745 687h0M745 688h0M749 691h0M745 690h0M760 546h0M759 545h0M760 547h0M760 550h0M764 551h0M759 553h0M764 553h0M764 557h0M759 558h0M763 560h0M758 561h0M762 562h0M763 565h0M759 567h0M760 566h0M764 568h0M760 569h0M763 573h0M762 575h0M760 575h0M760 576h0M763 576h0M750 582h0M754 585h0M750 587h0M752 588h0M752 590h0M754 593h0M752 596h0M754 596h0M752 599h0M753 601h0M755 601h0M754 604h0M752 603h0M755 608h0M752 608h0M752 610h0M753 614h0M751 615h0M753 616h0M751 618h0M754 619h0M764 584h0M764 586h0M764 589h0M766 589h0M766 590h0M762 591h0M767 592h0M767 596h0M764 598h0M765 599h0M764 602h0M766 603h0M762 603h0M764 606h0M765 608h0M769 609h0M764 611h0M768 612h0M771 611h0M769 615h0M771 618h0M769 618h0M771 619h0M767 621h0M765 622h0M773 566h0M771 571h0M772 571h0M772 576h0M769 578h0M773 580h0M771 580h0M771 586h0M772 589h0M755 631h0M754 633h0M753 634h0M751 635h0M751 638h0M753 640h0M752 639h0M754 641h0M750 642h0M754 646h0M751 645h0M748 650h0M750 648h0M750 653h0M758 654h0M758 656h0M758 661h0M756 664h0M756 666h0M757 672h0M759 675h0M757 677h0M758 680h0M767 633h0M768 634h0M768 638h0M768 644h0M776 547h0M775 543h0M780 544h0M779 545h0M780 547h0M783 546h0M788 548h0M790 547h0M790 550h0M787 552h0M794 553h0M793 554h0M792 549h0M792 555h0M793 556h0M792 551h0M789 557h0M793 553h0M792 553h0M788 554h0M785 559h0M787 560h0M785 561h0M781 563h0M783 563h0M785 565h0M785 571h0M786 575h0M785 575h0M794 598h0M795 602h0M793 607h0M793 608h0M794 615h0M795 616h0M794 622h0M785 602h0M786 604h0M784 607h0M786 609h0M786 614h0M785 616h0M788 630h0M787 633h0M787 637h0M788 642h0M787 646h0M797 631h0M795 633h0M794 635h0M795 636h0M795 642h0M796 644h0M796 646h0M795 649h0M799 656h0M803 656h0M799 659h0M795 661h0M798 660h0M796 662h0M798 661h0M800 662h0M803 664h0M805 662h0M807 663h0M800 664h0M805 667h0M802 667h0M810 670h0M803 670h0M804 670h0M814 670h0M808 673h0M805 674h0M813 676h0M806 677h0M812 678h0M808 679h0M809 681h0M818 680h0M818 682h0M813 682h0M813 685h0M814 683h0M812 683h0M816 685h0M816 688h0M814 686h0M820 687h0M815 690h0M821 693h0M816 694h0M795 669h0M798 671h0M798 675h0M797 677h0M797 681h0M823 578h0M823 586h0M824 590h0M823 596h0M823 598h0M824 602h0M824 605h0M825 609h0M824 612h0M824 616h0M824 620h0M826 620h0M825 625h0M826 629h0M824 645h0M826 645h0M826 646h0M824 647h0M827 648h0M825 650h0M827 650h0M826 652h0M828 653h0M827 655h0M826 657h0M829 658h0M830 657h0M828 658h0M827 661h0M828 661h0M827 663h0M827 665h0M827 664h0M829 667h0M828 667h0M830 669h0M829 670h0M829 671h0M830 672h0M829 673h0M830 673h0M829 674h0M831 677h0M830 676h0M830 679h0M831 678h0M830 682h0M832 684h0M832 683h0M832 686h0M834 688h0M833 689h0M834 691h0M832 691h0M834 693h0M832 694h0M832 693h0M832 695h0M834 697h0M831 697h0M835 698h0M833 700h0M834 701h0M832 702h0M833 702h0M835 703h0M835 706h0M834 707h0M834 708h0M834 709h0M836 711h0M834 713h0M834 712h0M833 715h0M836 715h0M836 719h0M836 718h0M835 721h0M835 723h0M839 722h0M838 723h0M837 725h0M840 724h0M840 725h0M840 728h0M841 729h0M841 727h0M843 728h0M842 727h0M845 725h0M842 723h0M844 723h0M847 720h0M846 719h0M845 719h0M848 716h0M846 717h0M849 716h0M846 713h0M847 713h0M846 712h0M848 709h0M847 710h0M849 707h0M849 705h0M850 703h0M849 702h0M851 701h0M851 699h0M852 698h0M851 700h0M851 696h0M853 696h0M854 695h0M853 694h0M851 694h0M851 692h0M850 692h0M851 689h0M848 689h0M847 689h0M847 686h0M848 685h0M846 685h0M847 685h0M855 544h0M856 547h0M854 553h0M857 555h0M856 558h0M856 561h0M856 574h0M857 577h0M857 579h0M859 580h0M857 585h0M870 612h0M870 613h0M865 615h0M869 619h0M866 618h0M868 621h0M869 621h0M867 623h0M866 627h0M867 628h0M865 630h0M868 630h0M865 633h0M864 635h0M865 634h0M867 635h0M867 640h0M865 639h0M867 641h0M866 645h0M863 646h0M862 644h0M864 647h0M864 648h0M866 651h0M864 652h0M864 654h0M861 656h0M862 658h0M863 659h0M863 660h0M860 661h0M863 663h0M865 665h0M860 668h0M863 670h0M861 669h0M863 673h0M862 676h0M859 675h0M863 676h0M874 544h0M873 546h0M874 549h0M869 551h0M873 556h0M870 556h0M871 560h0M874 562h0M872 564h0M870 567h0M872 570h0M869 572h0M871 574h0M868 577h0M873 579h0M868 585h0M871 587h0M873 587h0M873 589h0M884 544h0M883 547h0M881 548h0M880 551h0M884 553h0M884 556h0M881 558h0M881 560h0M883 559h0M880 560h0M883 562h0M884 563h0M879 565h0M883 564h0M883 568h0M884 571h0M885 573h0M883 572h0M880 574h0M882 578h0M879 577h0M880 580h0M884 581h0M884 585h0M881 586h0M883 588h0M879 590h0M880 590h0M888 554h0M890 554h0M893 557h0M891 557h0M890 559h0M893 562h0M896 563h0M895 567h0M893 568h0M897 569h0M893 574h0M894 575h0M895 575h0M898 580h0M894 579h0M902 569h0M901 570h0M904 572h0M901 572h0M901 575h0M901 576h0M905 579h0M904 579h0M904 583h0M905 584h0M904 585h0M908 585h0M908 589h0M904 588h0M904 590h0M905 592h0M906 594h0M903 592h0M891 592h0M894 591h0M895 595h0M898 594h0M890 611h0M889 610h0M896 611h0M898 611h0M903 614h0M901 614h0M892 623h0M896 620h0M906 627h0M904 629h0M895 631h0M893 630h0M898 634h0M900 635h0M888 642h0M901 642h0M892 644h0M904 651h0M897 652h0M895 657h0M891 656h0M889 658h0M887 664h0M898 665h0M896 668h0M886 669h0M890 674h0M887 678h0M908 651h0M906 652h0M905 652h0M905 653h0M908 655h0M907 655h0M908 658h0M908 659h0M909 660h0M906 663h0M907 663h0M909 664h0M907 667h0M909 667h0M909 668h0M909 669h0M910 672h0M910 674h0M911 674h0M908 676h0M910 675h0M912 677h0M912 679h0M910 680h0M913 681h0M913 682h0M914 684h0M911 685h0M914 686h0M913 686h0M914 688h0M913 689h0M913 690h0M915 692h0M913 692h0M915 693h0M914 695h0M916 697h0M915 696h0M916 699h0M918 700h0M916 700h0M916 701h0M916 702h0M917 704h0M917 705h0M919 705h0M917 707h0M918 710h0M918 709h0M919 713h0M916 714h0M918 716h0M920 717h0M918 719h0M918 722h0M919 723h0M918 725h0M921 724h0M920 724h0M920 727h0M921 729h0M919 731h0M920 728h0M921 725h0M920 723h0M920 718h0M922 714h0M920 709h0M922 706h0M922 704h0M921 701h0M922 700h0M922 696h0M922 693h0M923 689h0M922 687h0M923 685h0M924 680h0M923 676h0M924 671h0M923 670h0M924 666h0M923 662h0M924 659h0M924 656h0M923 655h0M924 651h0M924 649h0M925 645h0M924 641h0M925 637h0M924 634h0M925 632h0M925 629h0M925 624h0M925 623h0M925 620h0M925 614h0M925 612h0M926 606h0M927 602h0M927 598h0M927 595h0M927 593h0M926 591h0M926 587h0M925 581h0M928 581h0M927 575h0M926 574h0M929 569h0M929 564h0M928 563h0M930 559h0M929 555h0M930 553h0M931 546h0M936 547h0M937 548h0M938 548h0M941 544h0M943 546h0M943 551h0M952 550h0M949 553h0M949 549h0M948 554h0M952 554h0M946 557h0M949 556h0M949 558h0M951 563h0M949 562h0M944 566h0M941 566h0M940 571h0M942 573h0M944 576h0M943 575h0M939 579h0M942 581h0M940 585h0M941 586h0M943 589h0M945 600h0M944 606h0M946 608h0M944 609h0M939 613h0M945 618h0M950 620h0M945 624h0M947 627h0M936 630h0M941 631h0M948 637h0M938 636h0M939 643h0M961 545h0M964 545h0M962 546h0M964 551h0M964 553h0M963 554h0M963 556h0M961 560h0M962 562h0M961 566h0M964 566h0M964 570h0M964 571h0M961 573h0M965 573h0M962 578h0M964 577h0M965 578h0M962 583h0M964 582h0M963 586h0M965 587h0M964 587h0M963 590h0M964 593h0M971 603h0M967 605h0M968 610h0M971 611h0M970 610h0M971 613h0M966 614h0M967 616h0M965 620h0M966 618h0M969 623h0M970 624h0M970 626h0M969 627h0M964 627h0M964 629h0M967 630h0M966 634h0M969 634h0M968 636h0M965 639h0M968 639h0M968 643h0M964 642h0M967 646h0M965 647h0M965 648h0M968 648h0M967 650h0M966 651h0M967 655h0M968 657h0M968 658h0M964 659h0M964 660h0M973 546h0M974 548h0M973 548h0M972 549h0M971 553h0M975 553h0M975 556h0M974 559h0M972 559h0M975 561h0M974 564h0M896 546h0M872 545h0M990 380h0M990 391h0M988 440h0M988 451h0M994 466h0M994 489h0M994 512h0M995 536h0M1052 474h0M1062 501h0M1062 525h0M1071 522h0M1071 535h0M1062 540h0M1071 545h0M1089 382h0M1089 398h0M1089 436h0M1089 458h0M1071 509h0M1114 501h0M1112 522h0M1105 542h0M1112 545h0M1164 516h0M1188 486h0M1187 492h0M1189 500h0M1201 540h0M1217 472h0M1230 535h0M1230 542h0M1245 388h0M1245 408h0M1245 425h0M1246 434h0M1246 442h0M1246 451h0M1246 460h0M1246 500h0M857 503h0M857 506h0M857 507h0M856 509h0M859 509h0M857 512h0M857 513h0M856 513h0M856 514h0M857 519h0M857 518h0M856 520h0M858 524h0M856 525h0M855 525h0M855 528h0M857 527h0M857 530h0M856 530h0M857 534h0M856 533h0M857 533h0M855 537h0M857 540h0M855 538h0M854 543h0M856 541h0M855 545h0M855 547h0M873 445h0M875 448h0M873 448h0M876 452h0M876 451h0M876 454h0M875 458h0M878 456h0M875 460h0M878 460h0M876 464h0M875 466h0M878 466h0M879 469h0M876 469h0M879 473h0M876 475h0M875 473h0M874 476h0M874 479h0M876 492h0M876 494h0M877 500h0M875 504h0M877 506h0M874 521h0M873 525h0M874 526h0M875 528h0M885 512h0M886 515h0M885 518h0M888 519h0M887 520h0M885 523h0M888 525h0M886 527h0M887 532h0M885 530h0M885 533h0M887 534h0M886 535h0M885 536h0M885 540h0M888 541h0M887 543h0M886 544h0M887 545h0M933 511h0M936 514h0M935 513h0M938 514h0M931 515h0M935 519h0M932 518h0M932 521h0M934 521h0M938 525h0M931 523h0M938 526h0M931 527h0M938 531h0M933 532h0M937 531h0M933 535h0M937 533h0M937 536h0M936 537h0M935 538h0M936 541h0M932 542h0M930 545h0M928 543h0M934 547h0M928 547h0M952 512h0M950 515h0M954 515h0M950 517h0M956 517h0M947 518h0M953 523h0M947 522h0M948 524h0M947 524h0M951 527h0M948 529h0M951 531h0M945 529h0M946 532h0M951 533h0M953 536h0M950 539h0M953 540h0M946 542h0M944 541h0M946 543h0M953 547h0M951 545h0M936 524h0M950 526h0M946 527h0M941 528h0M958 533h0M946 530h0M959 534h0M950 536h0M951 534h0M959 536h0M955 538h0M945 539h0M950 545h0M941 545h0M948 549h0M943 549h0M944 550h0M948 548h0M950 546h0M953 548h0M958 392h0M959 395h0M960 399h0M961 404h0M959 406h0M962 407h0M958 416h0M958 421h0M960 426h0M958 430h0M957 434h0M960 440h0M958 443h0M960 448h0M959 452h0M959 456h0M960 461h0M959 468h0M957 476h0M957 477h0M957 480h0M954 481h0M955 484h0M957 486h0M958 489h0M955 491h0M956 493h0M959 492h0M958 493h0M953 494h0M954 498h0M958 500h0M954 501h0M956 504h0M952 505h0M957 510h0M955 512h0M981 409h0M979 414h0M980 415h0M980 420h0M977 433h0M977 436h0M981 436h0M979 440h0M979 446h0M977 447h0M978 450h0M980 451h0M979 456h0M978 456h0M979 462h0M980 466h0M975 468h0M979 466h0M977 470h0M985 469h0M988 470h0M976 474h0M980 475h0M974 475h0M980 477h0M977 475h0M981 479h0M980 478h0M975 479h0M975 480h0M986 482h0M972 483h0M973 484h0M976 486h0M971 484h0M979 487h0M975 489h0M977 488h0M976 488h0M981 493h0M979 493h0M969 495h0M979 495h0M977 495h0M982 499h0M976 500h0M977 501h0M979 502h0M981 503h0M972 502h0M983 507h0M985 507h0M984 509h0M984 511h0M982 515h0M983 518h0M985 521h0M982 527h0M985 529h0M976 508h0M976 512h0M975 516h0M972 517h0M974 520h0M971 523h0M972 527h0M976 528h0M976 534h0M975 533h0M991 358h0M988 361h0M991 362h0M988 365h0M988 368h0M992 368h0M989 369h0M990 372h0M990 401h0M989 402h0M993 407h0M993 405h0M991 410h0M990 410h0M990 412h0M994 413h0M991 414h0M994 416h0M991 417h0M990 418h0M991 418h0M994 423h0M992 422h0M991 423h0M992 423h0M993 425h0M995 429h0M992 430h0M994 430h0M994 433h0M1030 427h0M1031 431h0M1030 434h0M1030 438h0M1031 441h0M1029 443h0M1031 448h0M1030 454h0M1027 459h0M1029 460h0M1032 459h0M1030 461h0M1032 464h0M1029 464h0M1027 469h0M1029 468h0M1032 470h0M1030 476h0M1029 474h0M1028 479h0M1032 479h0M1030 483h0M1028 483h0M1027 484h0M1031 485h0M1029 487h0M1027 492h0M1031 491h0M1026 492h0M1027 497h0M1028 498h0M1026 500h0M1026 499h0M1031 502h0M1027 503h0M1027 505h0M1025 508h0M1025 512h0M1028 511h0M1029 516h0M1029 514h0M1028 515h0M1029 518h0M1033 523h0M1034 523h0M1028 524h0M1029 530h0M1033 531h0M1029 533h0M1029 536h0M1034 539h0M1027 539h0M1028 544h0M1032 547h0M1023 547h0M1059 355h0M1059 363h0M1059 372h0M1059 382h0M1060 387h0M1059 394h0M1059 406h0M1059 415h0M1057 436h0M1064 440h0M1058 440h0M1057 442h0M1052 444h0M1063 443h0M1059 444h0M1056 445h0M1051 449h0M1057 449h0M1052 452h0M1059 452h0M1052 456h0M1058 457h0M1062 457h0M1057 458h0M1064 459h0M1059 464h0M1056 465h0M1061 464h0M1055 467h0M1065 465h0M1055 469h0M1061 471h0M1066 471h0M1058 474h0M1061 473h0M1060 488h0M1059 490h0M1057 491h0M1051 490h0M1054 495h0M1052 499h0M1051 499h0M1054 503h0M1051 513h0M1054 516h0M1056 520h0M1051 522h0M1057 528h0M1054 531h0M1052 535h0M1052 541h0M1049 544h0M1078 351h0M1079 351h0M1076 357h0M1078 359h0M1078 372h0M1078 376h0M1079 376h0M1080 381h0M1080 384h0M1079 387h0M1080 390h0M1077 392h0M1078 397h0M1082 402h0M1084 406h0M1080 408h0M1082 407h0M1081 410h0M1080 410h0M1081 413h0M1081 414h0M1081 417h0M1082 417h0M1080 418h0M1080 422h0M1080 423h0M1076 423h0M1074 432h0M1071 432h0M1081 436h0M1073 438h0M1081 437h0M1082 438h0M1077 441h0M1081 443h0M1084 444h0M1080 443h0M1082 447h0M1077 449h0M1075 449h0M1073 450h0M1074 451h0M1073 453h0M1073 451h0M1080 456h0M1075 455h0M1072 459h0M1079 458h0M1082 459h0M1078 463h0M1071 463h0M1077 464h0M1070 466h0M1080 468h0M1073 469h0M1069 472h0M1070 469h0M1079 470h0M1080 474h0M1072 475h0M1070 475h0M1075 479h0M1080 466h0M1079 464h0M1083 467h0M1081 468h0M1083 470h0M1084 473h0M1084 471h0M1083 474h0M1088 475h0M1083 476h0M1087 480h0M1088 479h0M1088 480h0M1091 481h0M1090 484h0M1091 485h0M1088 486h0M1093 486h0M1097 488h0M1074 489h0M1073 489h0M1074 492h0M1072 498h0M1072 497h0M1099 492h0M1100 493h0M1086 496h0M1093 497h0M1095 495h0M1098 498h0M1094 498h0M1094 502h0M1094 501h0M1086 501h0M1085 502h0M1095 506h0M1086 505h0M1092 507h0M1086 508h0M1093 509h0M1086 510h0M1095 511h0M1098 513h0M1092 515h0M1097 516h0M1090 515h0M1096 520h0M1085 518h0M1085 521h0M1092 519h0M1085 522h0M1083 522h0M1097 524h0M1098 523h0M1095 526h0M1084 525h0M1098 527h0M1094 527h0M1099 531h0M1096 532h0M1096 530h0M1091 535h0M1092 535h0M1094 533h0M1089 537h0M1095 539h0M1087 538h0M1097 539h0M1090 540h0M1091 542h0M1099 541h0M1090 546h0M1085 545h0M1098 546h0M1095 547h0M1110 421h0M1109 420h0M1109 423h0M1110 426h0M1109 427h0M1111 431h0M1110 430h0M1109 431h0M1111 434h0M1111 435h0M1109 437h0M1110 436h0M1112 441h0M1111 441h0M1109 441h0M1109 443h0M1109 446h0M1110 448h0M1111 448h0M1111 450h0M1109 450h0M1110 452h0M1110 454h0M1111 468h0M1110 470h0M1111 470h0M1108 471h0M1109 474h0M1110 473h0M1109 475h0M1110 479h0M1108 480h0M1108 481h0M1109 482h0M1109 486h0M1109 488h0M1108 488h0M1109 490h0M1108 495h0M1109 494h0M1108 497h0M1107 501h0M1105 511h0M1107 513h0M1107 520h0M1165 498h0M1164 500h0M1165 504h0M1165 526h0M1163 525h0M1163 528h0M1164 528h0M1162 530h0M1163 531h0M1162 535h0M1162 536h0M1166 537h0M1167 540h0M1163 542h0M1163 545h0M1165 543h0M1192 421h0M1190 423h0M1192 424h0M1191 426h0M1191 427h0M1190 427h0M1192 430h0M1189 432h0M1192 434h0M1191 436h0M1191 435h0M1191 438h0M1190 442h0M1190 443h0M1189 445h0M1190 444h0M1189 447h0M1191 448h0M1190 450h0M1188 453h0M1190 456h0M1190 458h0M1190 459h0M1188 459h0M1188 460h0M1187 463h0M1189 463h0M1188 463h0M1188 465h0M1188 469h0M1187 470h0M1188 510h0M1188 515h0M1186 516h0M1185 524h0M1187 528h0M1183 537h0M1187 539h0M1188 539h0M1187 541h0M1188 541h0M1194 543h0M1192 545h0M1212 348h0M1210 352h0M1210 354h0M1210 367h0M1213 369h0M1209 373h0M1206 372h0M1206 388h0M1208 396h0M1209 406h0M1207 415h0M1209 419h0M1209 430h0M1211 440h0M1210 444h0M1204 464h0M1204 466h0M1204 468h0M1206 468h0M1207 470h0M1204 473h0M1207 472h0M1203 473h0M1203 476h0M1206 476h0M1207 479h0M1206 481h0M1207 482h0M1203 485h0M1206 488h0M1206 490h0M1205 489h0M1206 494h0M1204 493h0M1204 494h0M1202 506h0M1204 508h0M1203 510h0M1203 515h0M1203 516h0M1202 523h0M1203 522h0M1214 481h0M1211 483h0M1216 482h0M1215 484h0M1213 486h0M1215 487h0M1216 488h0M1214 490h0M1217 492h0M1214 497h0M1212 494h0M1216 497h0M1214 499h0M1215 501h0M1217 501h0M1213 504h0M1215 505h0M1213 509h0M1214 510h0M1217 509h0M1222 507h0M1224 511h0M1223 512h0M1219 514h0M1222 516h0M1222 519h0M1223 519h0M1220 520h0M1221 537h0M1220 535h0M1222 537h0M1220 542h0M1218 543h0M1218 546h0M1223 549h0M1239 451h0M1234 453h0M1230 456h0M1229 456h0M1236 455h0M1232 458h0M1240 457h0M1231 461h0M1239 460h0M1233 460h0M1234 463h0M1230 464h0M1234 465h0M1228 464h0M1238 465h0M1233 469h0M1239 467h0M1232 470h0M1241 472h0M1243 474h0M1231 473h0M1239 474h0M1232 475h0M1236 476h0M1240 478h0M1232 480h0M1233 478h0M1238 479h0M1238 482h0M1239 481h0M1231 484h0M1240 484h0M1234 483h0M1229 488h0M1232 489h0M1241 491h0M1240 492h0M1234 494h0M1236 494h0M1239 494h0M1244 495h0M1235 496h0M1243 499h0M1235 499h0M1238 500h0M1242 502h0M1236 503h0M1243 507h0M1235 505h0M1239 508h0M1242 512h0M1246 511h0M1234 512h0M1244 513h0M1235 515h0M1244 517h0M1244 518h0M1240 521h0M1237 519h0M1247 522h0M1241 523h0M1239 525h0M1250 523h0M1237 526h0M1248 527h0M1240 529h0M1240 528h0M1241 529h0M1239 532h0M1244 534h0M1248 532h0M1248 533h0M1248 538h0M1250 536h0M1249 539h0M1246 539h0M1243 540h0M1247 541h0M1241 543h0M1243 544h0M1242 544h0M1245 547h0M1242 546h0M1231 511h0M1231 515h0M1229 518h0M1280 480h0M1283 481h0M1300 481h0M1279 481h0M1278 481h0M1288 486h0M1279 483h0M1301 487h0M1285 486h0M1284 485h0M1298 491h0M1286 490h0M1279 487h0M1295 491h0M1288 492h0M1287 495h0M1300 494h0M1298 495h0M1280 496h0M1287 493h0M1299 497h0M1291 498h0M1283 496h0M1299 501h0M1284 500h0M1289 502h0M1280 499h0M1293 505h0M1282 503h0M1280 503h0M1289 503h0M1298 505h0M1296 508h0M1289 509h0M1299 507h0M1286 511h0M1287 506h0M1298 507h0M1285 507h0M1298 512h0M1300 510h0M1283 512h0M1279 512h0M1296 514h0M1286 514h0M1278 515h0M1280 515h0M1288 514h0M1273 517h0M1291 514h0M1278 521h0M1274 520h0M1291 519h0M1286 518h0M1274 519h0M1276 521h0M1287 523h0M1277 523h0M1295 527h0M1294 526h0M1296 526h0M1284 530h0M1283 525h0M1297 528h0M1297 533h0M1287 530h0M1294 533h0M1290 534h0M1282 533h0M1277 532h0M1274 537h0M1280 534h0M1288 538h0M1290 538h0M1290 540h0M1281 537h0M1276 542h0M1280 541h0M1284 543h0M1294 544h0M1283 543h0M1310 445h0M1311 447h0M1311 449h0M1311 448h0M1311 450h0M1310 451h0M1311 452h0M1309 455h0M1306 457h0M1308 459h0M1310 457h0M1310 461h0M1310 460h0M1307 462h0M1310 463h0M1308 465h0M1308 469h0M1308 470h0M1313 469h0M1311 471h0M1310 475h0M1310 476h0M1309 477h0M1312 478h0M1310 480h0M1315 482h0M1315 483h0M1312 485h0M1329 457h0M1327 458h0M1328 459h0M1320 460h0M1327 463h0M1326 465h0M1328 465h0M1324 468h0M1328 468h0M1321 469h0M1318 472h0M1323 471h0M1319 474h0M1326 474h0M1321 475h0M1325 478h0M1320 481h0M1327 479h0M1323 482h0M1324 482h0M1321 486h0M1329 486h0M1329 487h0M1323 489h0M1316 491h0M1325 488h0M1323 490h0M1320 495h0M1325 494h0M1322 496h0M1322 495h0M1321 498h0M1320 500h0M1319 501h0M1326 503h0M1324 503h0M1319 503h0M1323 507h0M1318 507h0M1321 507h0M1322 508h0M1326 510h0M1321 509h0M1322 511h0M1330 514h0M1318 515h0M1329 517h0M1331 515h0M1323 520h0M1327 519h0M1318 521h0M1321 521h0M1318 523h0M1321 525h0M1325 528h0M1320 527h0M1329 529h0M1317 530h0M1317 534h0M1327 532h0M1324 535h0M1316 537h0M1323 537h0M1322 538h0M1339 371h0M1336 370h0M1336 374h0M1339 372h0M1336 378h0M1338 379h0M1339 378h0M1337 379h0M1336 383h0M1338 385h0M1338 386h0M1337 384h0M1337 389h0M1338 390h0M1337 388h0M1337 390h0M1337 391h0M1336 393h0M1339 397h0M1339 399h0M1339 401h0M1338 406h0M1329 408h0M1338 410h0M1331 410h0M1330 409h0M1333 410h0M1336 414h0M1336 415h0M1332 416h0M1331 416h0M1335 416h0M1331 417h0M1332 422h0M1335 421h0M1337 422h0M1331 423h0M1337 427h0M1330 425h0M1332 429h0M1333 429h0M1331 431h0M1331 430h0M1330 431h0M1335 436h0M1336 437h0M1328 436h0M1332 438h0M1330 437h0M1329 439h0M1336 440h0M1333 440h0M1336 442h0M1335 445h0M1034 552h0M1039 671h0M1054 584h0M1088 548h0M1088 556h0M1111 550h0M1112 575h0M1112 592h0M1112 605h0M1118 698h0M1146 650h0M1186 571h0M1222 565h0M1222 575h0M1242 566h0M1251 585h0M1000 588h0M1001 590h0M1000 590h0M999 593h0M999 592h0M998 597h0M999 597h0M999 600h0M1000 600h0M1001 600h0M998 602h0M999 604h0M1002 606h0M1001 607h0M1001 609h0M1003 611h0M1000 615h0M997 615h0M1002 615h0M1000 617h0M998 617h0M998 619h0M1001 622h0M1002 621h0M1003 623h0M1000 626h0M1003 629h0M1000 629h0M1001 630h0M1001 632h0M1003 634h0M1002 637h0M1004 637h0M1002 640h0M1000 640h0M1001 644h0M1001 645h0M1000 646h0M1005 650h0M1003 649h0M1005 654h0M1004 652h0M1002 657h0M1002 658h0M1006 659h0M1004 661h0M1006 665h0M1002 667h0M1003 667h0M1003 670h0M1002 669h0M1008 671h0M1004 674h0M1006 675h0M1008 675h0M1010 677h0M1009 680h0M1010 681h0M1009 682h0M1019 589h0M1018 589h0M1016 590h0M1021 594h0M1021 596h0M1020 596h0M1015 595h0M1016 600h0M1021 602h0M1021 605h0M1021 604h0M1013 606h0M1018 611h0M1013 609h0M1021 612h0M1014 616h0M1015 616h0M1019 618h0M1022 618h0M1023 621h0M1022 622h0M1020 625h0M1022 625h0M1022 629h0M1019 627h0M1017 629h0M1019 632h0M1023 633h0M1018 635h0M1015 636h0M1016 638h0M1021 640h0M1014 642h0M1015 643h0M1020 643h0M1014 646h0M1019 648h0M1013 651h0M1013 650h0M1014 651h0M1010 655h0M1007 654h0M1013 658h0M1016 659h0M1012 660h0M1007 661h0M1012 665h0M1010 665h0M1009 666h0M1009 668h0M1012 672h0M1015 672h0M1009 676h0M1009 678h0M1015 678h0M1025 547h0M1026 547h0M1027 551h0M1025 554h0M1027 558h0M1026 559h0M1028 561h0M1026 566h0M1024 568h0M1026 568h0M1026 583h0M1026 586h0M1023 586h0M1025 590h0M1024 591h0M1025 596h0M1026 596h0M1023 599h0M1038 577h0M1039 576h0M1036 581h0M1038 584h0M1039 584h0M1033 587h0M1031 588h0M1035 591h0M1038 593h0M1033 594h0M1034 598h0M1033 602h0M1036 600h0M1031 605h0M1036 607h0M1034 610h0M1030 613h0M1034 612h0M1035 614h0M1030 617h0M1036 620h0M1042 591h0M1042 595h0M1040 595h0M1049 596h0M1048 598h0M1046 597h0M1051 599h0M1042 600h0M1050 604h0M1044 603h0M1044 605h0M1043 605h0M1048 605h0M1050 609h0M1052 609h0M1042 612h0M1051 613h0M1049 612h0M1048 616h0M1049 616h0M1041 617h0M1048 619h0M1045 619h0M1052 621h0M1044 620h0M1043 623h0M1051 622h0M1044 625h0M1050 626h0M1042 628h0M1047 628h0M1044 633h0M1049 634h0M1044 634h0M1042 636h0M1045 635h0M1048 636h0M1044 636h0M1040 640h0M1042 639h0M1041 643h0M1045 642h0M1045 643h0M1038 647h0M1040 646h0M1046 649h0M1039 650h0M1038 649h0M1047 651h0M1037 654h0M1039 655h0M1041 657h0M1044 657h0M1041 660h0M1041 661h0M1039 660h0M1056 544h0M1054 546h0M1052 550h0M1054 551h0M1056 552h0M1057 555h0M1055 558h0M1056 558h0M1055 560h0M1057 562h0M1053 566h0M1053 567h0M1057 569h0M1064 544h0M1064 548h0M1064 549h0M1063 551h0M1062 551h0M1065 552h0M1065 555h0M1062 555h0M1063 556h0M1065 557h0M1063 557h0M1061 562h0M1063 562h0M1065 565h0M1064 565h0M1066 567h0M1061 569h0M1065 570h0M1063 568h0M1067 572h0M1063 571h0M1063 574h0M1064 576h0M1064 577h0M1067 579h0M1064 578h0M1063 582h0M1066 582h0M1067 584h0M1068 586h0M1068 588h0M1068 587h0M1066 590h0M1064 592h0M1066 594h0M1069 593h0M1067 596h0M1064 597h0M1065 596h0M1064 600h0M1068 600h0M1067 605h0M1065 603h0M1069 606h0M1066 608h0M1065 608h0M1067 608h0M1066 612h0M1065 610h0M1067 614h0M1066 613h0M1070 614h0M1067 619h0M1066 620h0M1067 620h0M1068 622h0M1065 624h0M1071 622h0M1067 626h0M1070 628h0M1066 628h0M1071 630h0M1069 631h0M1071 632h0M1066 633h0M1071 635h0M1066 636h0M1070 637h0M1067 639h0M1071 644h0M1066 642h0M1065 644h0M1067 647h0M1073 544h0M1072 548h0M1071 551h0M1072 553h0M1072 555h0M1071 558h0M1071 561h0M1102 560h0M1106 558h0M1105 560h0M1103 564h0M1102 565h0M1100 565h0M1104 566h0M1101 567h0M1104 571h0M1103 570h0M1104 573h0M1099 573h0M1104 577h0M1100 578h0M1101 576h0M1100 579h0M1103 582h0M1101 582h0M1100 585h0M1103 586h0M1101 587h0M1105 586h0M1104 590h0M1105 590h0M1103 590h0M1103 594h0M1105 595h0M1105 597h0M1105 599h0M1100 598h0M1102 599h0M1101 601h0M1103 600h0M1101 604h0M1103 603h0M1103 604h0M1101 605h0M1101 607h0M1101 609h0M1100 613h0M1102 611h0M1102 615h0M1102 613h0M1113 614h0M1117 614h0M1116 616h0M1113 615h0M1116 619h0M1111 619h0M1114 621h0M1111 621h0M1113 622h0M1112 624h0M1112 628h0M1116 629h0M1116 628h0M1113 629h0M1115 630h0M1116 634h0M1112 631h0M1117 633h0M1114 637h0M1116 636h0M1116 638h0M1116 641h0M1117 642h0M1112 643h0M1114 644h0M1117 647h0M1117 650h0M1113 649h0M1117 651h0M1116 653h0M1113 653h0M1115 655h0M1114 657h0M1113 659h0M1118 658h0M1118 662h0M1116 663h0M1113 662h0M1114 667h0M1115 667h0M1118 676h0M1117 680h0M1123 555h0M1120 557h0M1127 560h0M1125 558h0M1126 562h0M1123 561h0M1127 562h0M1121 563h0M1123 568h0M1128 568h0M1120 569h0M1122 567h0M1129 571h0M1125 571h0M1127 574h0M1122 575h0M1120 575h0M1128 577h0M1121 577h0M1123 579h0M1121 578h0M1122 579h0M1126 580h0M1123 583h0M1125 582h0M1124 584h0M1120 585h0M1129 587h0M1122 588h0M1124 588h0M1124 587h0M1122 590h0M1131 593h0M1127 594h0M1122 594h0M1129 594h0M1124 598h0M1124 596h0M1125 599h0M1124 601h0M1133 602h0M1132 599h0M1128 601h0M1132 603h0M1131 604h0M1127 607h0M1129 607h0M1135 609h0M1136 608h0M1134 610h0M1131 611h0M1130 613h0M1132 612h0M1138 613h0M1135 615h0M1135 617h0M1140 617h0M1140 618h0M1142 617h0M1139 620h0M1136 620h0M1138 621h0M1142 623h0M1139 622h0M1138 623h0M1142 626h0M1144 625h0M1145 627h0M1148 628h0M1144 629h0M1148 631h0M1139 631h0M1139 633h0M1141 634h0M1140 581h0M1136 581h0M1134 585h0M1139 584h0M1141 588h0M1139 588h0M1136 589h0M1143 590h0M1136 592h0M1136 593h0M1141 594h0M1142 598h0M1138 599h0M1144 600h0M1145 600h0M1145 601h0M1146 604h0M1142 605h0M1143 607h0M1131 619h0M1133 622h0M1129 624h0M1129 626h0M1133 626h0M1128 628h0M1129 631h0M1130 631h0M1133 632h0M1132 635h0M1130 637h0M1132 636h0M1129 639h0M1133 640h0M1130 641h0M1130 642h0M1134 643h0M1130 643h0M1130 645h0M1135 649h0M1134 651h0M1132 649h0M1136 653h0M1133 654h0M1135 657h0M1134 658h0M1136 658h0M1136 660h0M1134 660h0M1135 663h0M1132 665h0M1133 664h0M1134 667h0M1149 575h0M1151 580h0M1151 581h0M1151 589h0M1150 592h0M1156 616h0M1158 615h0M1161 618h0M1156 618h0M1155 620h0M1158 621h0M1163 621h0M1164 623h0M1156 639h0M1156 638h0M1156 642h0M1158 645h0M1157 644h0M1158 649h0M1165 578h0M1160 581h0M1166 584h0M1168 587h0M1162 589h0M1167 588h0M1164 593h0M1167 592h0M1166 598h0M1168 603h0M1171 601h0M1169 608h0M1166 610h0M1161 612h0M1164 612h0M1154 660h0M1151 659h0M1154 661h0M1154 665h0M1158 669h0M1155 668h0M1154 673h0M1161 673h0M1157 673h0M1157 679h0M1153 677h0M1150 676h0M1147 677h0M1152 680h0M1147 682h0M1152 684h0M1151 683h0M1158 688h0M1152 688h0M1152 689h0M1155 691h0M1150 690h0M1149 693h0M1151 693h0M1149 697h0M1150 698h0M1149 698h0M1152 700h0M1150 701h0M1149 705h0M1148 702h0M1149 703h0M1152 706h0M1149 706h0M1148 707h0M1149 711h0M1148 709h0M1147 712h0M1150 713h0M1152 714h0M1149 715h0M1146 716h0M1148 718h0M1150 719h0M1151 719h0M1146 720h0M1150 722h0M1149 721h0M1151 723h0M1149 726h0M1148 728h0M1152 726h0M1153 692h0M1156 689h0M1160 691h0M1153 696h0M1155 698h0M1158 695h0M1158 700h0M1159 703h0M1164 544h0M1165 548h0M1164 547h0M1167 548h0M1163 551h0M1166 552h0M1165 551h0M1163 556h0M1165 557h0M1166 559h0M1163 560h0M1165 561h0M1161 561h0M1168 621h0M1171 621h0M1175 621h0M1168 622h0M1172 626h0M1173 626h0M1173 629h0M1178 627h0M1169 628h0M1174 630h0M1171 633h0M1174 633h0M1175 632h0M1175 636h0M1170 635h0M1170 636h0M1176 638h0M1171 640h0M1167 640h0M1173 641h0M1165 640h0M1164 643h0M1166 644h0M1172 643h0M1166 646h0M1166 647h0M1172 646h0M1171 646h0M1173 648h0M1176 648h0M1167 650h0M1171 649h0M1171 654h0M1172 653h0M1170 655h0M1173 653h0M1172 654h0M1173 657h0M1180 659h0M1181 659h0M1178 658h0M1181 662h0M1182 663h0M1181 663h0M1176 662h0M1177 664h0M1179 664h0M1177 666h0M1183 668h0M1176 668h0M1180 667h0M1172 671h0M1174 671h0M1177 668h0M1169 672h0M1176 673h0M1171 673h0M1172 672h0M1172 674h0M1178 676h0M1175 677h0M1171 677h0M1179 677h0M1174 679h0M1173 679h0M1180 682h0M1180 681h0M1176 684h0M1180 683h0M1178 687h0M1178 686h0M1181 685h0M1175 688h0M1182 690h0M1184 688h0M1181 692h0M1182 692h0M1178 693h0M1182 693h0M1184 696h0M1176 698h0M1176 696h0M1183 697h0M1176 700h0M1182 699h0M1180 702h0M1179 703h0M1177 703h0M1179 706h0M1175 715h0M1174 715h0M1174 717h0M1175 720h0M1176 720h0M1176 722h0M1177 727h0M1176 728h0M1176 730h0M1176 731h0M1177 733h0M1175 734h0M1178 736h0M1186 586h0M1183 590h0M1185 591h0M1186 592h0M1185 593h0M1186 598h0M1184 598h0M1183 600h0M1186 601h0M1185 603h0M1184 603h0M1184 605h0M1186 606h0M1183 608h0M1186 610h0M1186 612h0M1187 613h0M1184 617h0M1186 620h0M1184 620h0M1185 620h0M1185 621h0M1183 625h0M1184 627h0M1185 626h0M1186 628h0M1184 631h0M1186 631h0M1184 633h0M1184 634h0M1184 635h0M1184 639h0M1183 639h0M1184 642h0M1183 645h0M1184 544h0M1188 548h0M1186 547h0M1187 553h0M1186 553h0M1187 557h0M1195 545h0M1196 546h0M1196 549h0M1192 550h0M1191 550h0M1195 551h0M1190 553h0M1192 553h0M1194 557h0M1190 555h0M1190 557h0M1192 560h0M1194 560h0M1197 563h0M1192 561h0M1196 565h0M1196 566h0M1195 569h0M1194 570h0M1196 570h0M1191 570h0M1198 574h0M1193 572h0M1197 573h0M1195 576h0M1195 575h0M1199 577h0M1200 578h0M1199 579h0M1194 580h0M1198 582h0M1198 584h0M1194 583h0M1199 585h0M1199 588h0M1194 589h0M1193 590h0M1199 591h0M1196 594h0M1196 591h0M1198 594h0M1193 596h0M1199 597h0M1198 599h0M1201 599h0M1196 601h0M1198 602h0M1201 601h0M1196 604h0M1201 614h0M1200 617h0M1199 618h0M1199 625h0M1198 625h0M1199 627h0M1200 630h0M1201 635h0M1199 635h0M1200 641h0M1198 642h0M1198 644h0M1221 545h0M1219 546h0M1221 550h0M1219 552h0M1221 554h0M1230 552h0M1227 554h0M1228 558h0M1227 580h0M1227 582h0M1229 584h0M1230 587h0M1230 585h0M1231 588h0M1227 588h0M1231 591h0M1227 591h0M1231 594h0M1229 595h0M1226 596h0M1230 599h0M1226 600h0M1225 603h0M1224 601h0M1228 603h0M1228 604h0M1225 608h0M1228 607h0M1224 609h0M1224 610h0M1223 614h0M1227 615h0M1226 617h0M1227 616h0M1228 616h0M1226 618h0M1222 622h0M1227 624h0M1226 626h0M1224 625h0M1223 629h0M1228 627h0M1226 629h0M1224 629h0M1225 639h0M1223 643h0M1226 647h0M1226 657h0M1224 658h0M1224 661h0M1226 667h0M1225 672h0M1244 546h0M1245 544h0M1243 550h0M1243 549h0M1239 546h0M1249 552h0M1247 549h0M1247 553h0M1252 553h0M1244 555h0M1254 553h0M1254 557h0M1252 555h0M1247 559h0M1248 557h0M1257 562h0M1257 561h0M1249 563h0M1251 563h0M1259 565h0M1260 563h0M1260 568h0M1253 566h0M1258 566h0M1256 567h0M1253 575h0M1261 579h0M1268 576h0M1256 581h0M1254 581h0M1260 583h0M1259 580h0M1253 586h0M1263 582h0M1261 586h0M1258 586h0M1265 583h0M1261 588h0M1269 587h0M1263 589h0M1265 591h0M1266 590h0M1270 588h0M1256 594h0M1268 593h0M1269 591h0M1266 595h0M1262 595h0M1266 594h0M1262 593h0M1262 594h0M1273 597h0M1257 598h0M1256 598h0M1266 596h0M1267 596h0M1262 602h0M1258 599h0M1259 602h0M1261 602h0M1270 607h0M1268 604h0M1267 608h0M1255 606h0M1260 610h0M1266 610h0M1261 610h0M1263 607h0M1264 607h0M1263 613h0M1264 612h0M1263 611h0M1267 616h0M1263 616h0M1259 616h0M1264 616h0M1261 616h0M1265 619h0M1267 619h0M1258 618h0M1271 616h0M1259 621h0M1264 620h0M1272 624h0M1269 625h0M1268 625h0M1267 622h0M1259 623h0M1272 628h0M1269 628h0M1260 625h0M1258 637h0M1258 639h0M1258 642h0M1257 643h0M1258 647h0M1257 652h0M1256 656h0M1257 658h0M1258 663h0M1256 664h0M1258 665h0M1257 667h0M1267 635h0M1266 638h0M1268 637h0M1268 642h0M1269 641h0M1267 645h0M1270 645h0M1270 647h0M1267 650h0M1268 651h0M1267 654h0M1272 652h0M1270 657h0M1268 657h0M1269 657h0M1267 658h0M1272 661h0M1268 661h0M1273 666h0M1271 664h0M1271 667h0M1269 667h0M1270 669h0M1271 670h0M1271 673h0M1272 673h0M1292 549h0M1296 549h0M1290 550h0M1292 548h0M1304 549h0M1291 554h0M1305 550h0M1302 554h0M1301 554h0M1294 554h0M1287 554h0M1287 559h0M1298 555h0M1296 557h0M1293 563h0M1293 564h0M1281 562h0M1287 560h0M1290 565h0M1280 569h0M1275 566h0M1276 569h0M1283 568h0M1279 569h0M1278 576h0M1280 573h0M1273 576h0M1280 579h0M1286 582h0M1273 582h0M1280 580h0M1288 570h0M1289 573h0M1291 577h0M1293 574h0M1297 574h0M1300 582h0M1296 580h0M1303 583h0M1299 594h0M1296 594h0M1299 596h0M1297 598h0M1301 597h0M1301 598h0M1297 600h0M1302 602h0M1299 605h0M1298 607h0M1299 606h0M1297 609h0M1298 611h0M1299 612h0M1296 616h0M1299 615h0M1294 615h0M1296 618h0M1298 619h0M1299 620h0M1300 622h0M1314 545h0M1315 548h0M1317 544h0M1316 549h0M1317 548h0M1323 550h0M1327 549h0M1324 549h0M1323 546h0M1323 551h0M1334 547h0M1326 551h0M1326 549h0M1333 554h0M1330 553h0M1325 552h0M1325 556h0M1328 556h0M1322 557h0M1328 560h0M1322 561h0M1324 560h0M1319 560h0M1323 564h0M1326 561h0M1319 562h0M1320 564h0M1322 567h0M1318 567h0M1321 566h0M1315 570h0M1323 573h0M1323 575h0M1324 578h0M1059 346h0M1059 354h0M1078 315h0M1078 330h0M1078 340h0M1077 348h0M1078 358h0M1380 332h0M1435 348h0M1433 268h0M1435 268h0M1209 300h0M1209 301h0M1209 303h0M1208 303h0M1208 305h0M1210 307h0M1208 309h0M1208 312h0M1209 313h0M1210 317h0M1209 316h0M1210 320h0M1211 323h0M1211 326h0M1209 328h0M1210 327h0M1211 331h0M1211 335h0M1210 335h0M1210 337h0M1209 338h0M1211 341h0M1210 345h0M1211 343h0M1210 347h0M1211 347h0M1210 350h0M1212 353h0M1211 355h0M1210 357h0M1367 271h0M1363 273h0M1363 274h0M1362 274h0M1364 277h0M1362 279h0M1361 279h0M1365 281h0M1363 281h0M1360 283h0M1364 283h0M1365 287h0M1365 286h0M1364 289h0M1363 288h0M1363 292h0M1364 292h0M1364 294h0M1360 296h0M1364 297h0M1361 300h0M1362 300h0M1360 304h0M1365 303h0M1363 306h0M1359 306h0M1363 307h0M1363 310h0M1363 314h0M1363 315h0M1362 316h0M1362 317h0M1363 317h0M1360 319h0M1358 319h0M1360 322h0M1363 322h0M1357 323h0M1362 327h0M1360 328h0M1359 330h0M1360 327h0M1357 329h0M1358 333h0M1358 332h0M1356 333h0M1356 337h0M1357 338h0M1360 336h0M1359 340h0M1354 342h0M1354 343h0M1357 344h0M1359 345h0M1358 348h0M1359 351h0M1355 348h0M1355 351h0M1354 354h0M1355 352h0M1358 356h0M1356 356h0M1366 342h0M1366 345h0M1367 348h0M1369 351h0M1368 349h0M1367 357h0M1393 327h0M1395 330h0M1393 331h0M1397 340h0M1399 342h0M1397 344h0M1398 346h0M1399 346h0M1400 351h0M1411 334h0M1408 338h0M1409 340h0M1409 343h0M1408 343h0M1410 346h0M1384 354h0M1383 351h0M1393 350h0M1392 355h0M1402 354h0M1401 350h0M1409 355h0M1395 351h0M1397 350h0M1411 352h0M1412 353h0M1402 353h0M1398 355h0M1410 354h0M1404 355h0M1413 351h0M1410 355h0M1409 353h0M1417 355h0M1418 355h0M1418 354h0M1432 277h0M1433 279h0M1429 278h0M1432 281h0M1428 279h0M1427 280h0M1433 285h0M1429 283h0M1428 287h0M1432 288h0M1434 288h0M1433 288h0M1433 291h0M1431 293h0M1433 294h0M1428 294h0M1433 296h0M1432 296h0M1432 297h0M1430 298h0M1429 303h0M1426 302h0M1428 305h0M1437 307h0M1438 309h0M1438 313h0M1436 313h0M1440 315h0M1441 317h0M1437 317h0M1442 319h0M1443 319h0M1439 322h0M1441 321h0M1440 325h0M1441 323h0M1439 324h0M1441 329h0M1442 327h0M1440 331h0M1441 331h0M1444 335h0M1441 335h0M1444 337h0M1442 338h0M1446 337h0M1447 340h0M1442 342h0M1444 342h0M1445 344h0M1447 344h0M1450 346h0M1447 346h0M1450 349h0M1450 348h0M1447 351h0M1451 351h0M1450 354h0M1447 352h0M1449 353h0M1451 355h0M1422 319h0M1424 321h0M1423 323h0M1424 324h0M1422 327h0M1421 329h0M1421 333h0M1465 245h0M1464 248h0M1464 251h0M1465 252h0M1465 254h0M1465 260h0M1466 261h0M1462 263h0M1460 263h0M1462 267h0M1466 270h0M1468 269h0M1465 270h0M1460 275h0M1466 275h0M1467 277h0M1468 279h0M1466 279h0M1465 279h0M1469 280h0M1468 282h0M1461 286h0M1468 286h0M1463 285h0M1460 290h0M1462 289h0M1468 289h0M1464 293h0M1464 295h0M1459 297h0M1457 300h0M1457 302h0M1461 303h0M1464 304h0M1459 303h0M1464 305h0M1465 310h0M1468 311h0M1462 310h0M1466 310h0M1461 311h0M1467 314h0M1465 317h0M1460 317h0M1467 317h0M1467 319h0M1458 321h0M1464 321h0M1460 322h0M1459 326h0M1462 326h0M1465 326h0M1465 328h0M1457 329h0M1462 333h0M1459 333h0M1462 334h0M1458 335h0M1462 337h0M1462 338h0M1455 340h0M1460 342h0M1460 345h0M1453 345h0M1456 348h0M1455 349h0M1460 352h0M1454 351h0M1454 352h0M1459 354h0M1462 355h0M1460 356h0M1477 223h0M1475 223h0M1483 226h0M1481 225h0M1478 225h0M1479 227h0M1476 228h0M1476 232h0M1485 233h0M1486 234h0M1484 232h0M1476 236h0M1482 237h0M1484 239h0M1483 240h0M1476 239h0M1484 244h0M1486 242h0M1479 245h0M1482 244h0M1485 244h0M1485 248h0M1482 250h0M1475 249h0M1477 250h0M1478 252h0M1480 255h0M1485 256h0M1487 227h0M1487 228h0M1489 233h0M1487 236h0M1489 239h0M1488 238h0M1484 260h0M1490 261h0M1487 260h0M1492 264h0M1489 265h0M1485 266h0M1489 270h0M1488 271h0M1486 271h0M1489 272h0M1492 275h0M1487 275h0M1489 279h0M1492 277h0M1495 282h0M1489 282h0M1495 284h0M1489 284h0M1489 283h0M1496 284h0M1491 285h0M1495 288h0M1497 290h0M1496 289h0M1496 293h0M1497 295h0M1494 295h0M1494 298h0M1493 299h0M1499 299h0M1495 300h0M1497 303h0M1493 303h0M1493 306h0M1498 306h0M1498 307h0M1493 308h0M1496 311h0M1499 313h0M1494 313h0M1493 315h0M1497 317h0M1497 316h0M1495 319h0M1497 319h0M1494 323h0M1495 322h0M1354 374h0M1354 380h0M1354 388h0M1400 414h0M1381 460h0M1372 472h0M1400 459h0M1505 350h0M1504 330h0M1347 400h0M1352 400h0M1347 403h0M1349 404h0M1351 406h0M1349 406h0M1351 409h0M1352 410h0M1350 412h0M1349 411h0M1347 413h0M1351 416h0M1349 418h0M1348 417h0M1347 420h0M1348 422h0M1345 422h0M1348 424h0M1350 425h0M1346 429h0M1349 428h0M1345 429h0M1348 432h0M1350 432h0M1345 433h0M1349 433h0M1349 437h0M1350 435h0M1351 436h0M1349 438h0M1352 440h0M1350 440h0M1351 444h0M1349 443h0M1347 454h0M1349 455h0M1349 458h0M1351 459h0M1350 460h0M1347 463h0M1352 464h0M1352 463h0M1353 466h0M1352 467h0M1348 471h0M1349 469h0M1352 472h0M1354 473h0M1354 477h0M1354 480h0M1350 477h0M1351 480h0M1354 482h0M1353 483h0M1352 483h0M1355 488h0M1355 487h0M1353 488h0M1355 492h0M1355 491h0M1354 494h0M1352 511h0M1351 512h0M1352 516h0M1352 518h0M1352 521h0M1353 524h0M1357 328h0M1354 330h0M1360 333h0M1355 335h0M1360 335h0M1358 340h0M1357 341h0M1353 342h0M1356 344h0M1356 345h0M1356 349h0M1357 348h0M1354 352h0M1354 355h0M1356 358h0M1367 342h0M1368 340h0M1367 343h0M1366 343h0M1368 347h0M1366 346h0M1369 349h0M1369 353h0M1367 353h0M1370 358h0M1370 357h0M1370 359h0M1379 329h0M1379 334h0M1379 337h0M1378 339h0M1379 342h0M1378 343h0M1378 344h0M1378 348h0M1379 349h0M1378 353h0M1378 357h0M1379 359h0M1378 360h0M1372 369h0M1367 367h0M1373 369h0M1372 370h0M1369 372h0M1371 372h0M1373 373h0M1366 376h0M1371 377h0M1369 379h0M1372 381h0M1366 382h0M1373 382h0M1370 384h0M1372 385h0M1373 385h0M1367 389h0M1371 390h0M1367 390h0M1369 391h0M1372 392h0M1369 392h0M1373 397h0M1374 399h0M1369 399h0M1368 398h0M1374 401h0M1372 405h0M1370 404h0M1391 344h0M1386 346h0M1392 344h0M1388 346h0M1388 349h0M1392 350h0M1393 351h0M1391 351h0M1386 352h0M1393 353h0M1391 356h0M1386 357h0M1394 356h0M1387 359h0M1388 360h0M1387 362h0M1391 363h0M1395 361h0M1393 363h0M1394 365h0M1396 365h0M1393 365h0M1394 367h0M1394 371h0M1392 371h0M1400 371h0M1397 372h0M1395 371h0M1399 371h0M1401 375h0M1401 373h0M1400 373h0M1405 375h0M1378 374h0M1380 377h0M1386 376h0M1393 380h0M1384 379h0M1382 382h0M1391 383h0M1384 382h0M1383 383h0M1392 384h0M1389 385h0M1386 385h0M1385 386h0M1392 389h0M1394 387h0M1390 388h0M1386 391h0M1390 392h0M1386 394h0M1382 393h0M1394 397h0M1395 398h0M1385 399h0M1386 400h0M1386 399h0M1386 402h0M1389 403h0M1389 404h0M1396 404h0M1387 403h0M1384 406h0M1382 407h0M1389 409h0M1382 406h0M1392 409h0M1393 410h0M1385 410h0M1389 410h0M1379 421h0M1375 422h0M1384 425h0M1380 424h0M1382 421h0M1382 426h0M1392 427h0M1389 428h0M1389 426h0M1383 425h0M1388 431h0M1379 428h0M1375 433h0M1377 432h0M1383 436h0M1389 436h0M1380 434h0M1387 436h0M1386 436h0M1394 440h0M1386 440h0M1389 439h0M1388 444h0M1388 443h0M1389 444h0M1378 441h0M1385 443h0M1384 444h0M1374 445h0M1379 443h0M1380 450h0M1372 452h0M1384 453h0M1377 452h0M1391 333h0M1395 335h0M1394 338h0M1396 337h0M1396 340h0M1397 336h0M1405 337h0M1400 335h0M1403 334h0M1410 334h0M1404 338h0M1404 337h0M1409 339h0M1408 344h0M1413 346h0M1418 346h0M1412 343h0M1407 346h0M1412 344h0M1411 346h0M1408 352h0M1407 349h0M1406 353h0M1414 350h0M1404 348h0M1406 350h0M1414 353h0M1411 350h0M1405 352h0M1404 351h0M1402 355h0M1405 357h0M1410 352h0M1414 360h0M1406 359h0M1413 358h0M1402 357h0M1400 361h0M1411 358h0M1412 363h0M1409 361h0M1402 364h0M1406 365h0M1410 365h0M1401 366h0M1400 365h0M1404 365h0M1398 366h0M1398 365h0M1409 364h0M1409 369h0M1411 371h0M1407 364h0M1414 367h0M1416 367h0M1410 368h0M1418 369h0M1420 370h0M1408 371h0M1412 369h0M1418 364h0M1422 369h0M1422 365h0M1419 366h0M1426 368h0M1412 381h0M1413 382h0M1414 385h0M1413 386h0M1414 384h0M1410 389h0M1410 390h0M1411 392h0M1410 395h0M1409 393h0M1411 396h0M1410 396h0M1411 408h0M1411 417h0M1411 427h0M1410 433h0M1409 443h0M1424 330h0M1420 331h0M1423 335h0M1425 334h0M1424 338h0M1441 327h0M1436 330h0M1436 336h0M1442 337h0M1441 338h0M1440 339h0M1441 340h0M1441 341h0M1436 341h0M1437 343h0M1437 347h0M1438 345h0M1434 350h0M1448 338h0M1449 339h0M1441 342h0M1447 342h0M1441 343h0M1451 343h0M1448 344h0M1443 349h0M1444 349h0M1450 351h0M1450 352h0M1444 353h0M1444 355h0M1450 355h0M1450 359h0M1449 358h0M1446 357h0M1444 359h0M1453 363h0M1446 360h0M1450 362h0M1454 364h0M1448 366h0M1451 366h0M1450 369h0M1446 370h0M1452 369h0M1451 371h0M1449 374h0M1447 374h0M1455 377h0M1453 378h0M1446 380h0M1447 378h0M1450 380h0M1454 382h0M1455 380h0M1454 383h0M1457 386h0M1448 387h0M1448 388h0M1455 388h0M1449 390h0M1456 389h0M1451 391h0M1452 392h0M1453 391h0M1454 394h0M1453 397h0M1451 397h0M1457 397h0M1450 399h0M1455 398h0M1455 401h0M1454 403h0M1453 401h0M1450 402h0M1452 408h0M1454 409h0M1450 410h0M1451 409h0M1456 410h0M1450 412h0M1447 413h0M1446 414h0M1453 417h0M1449 418h0M1448 417h0M1456 416h0M1453 421h0M1451 422h0M1460 332h0M1460 329h0M1464 329h0M1465 331h0M1466 335h0M1469 333h0M1467 333h0M1470 335h0M1468 336h0M1468 337h0M1461 340h0M1467 338h0M1465 343h0M1461 345h0M1458 345h0M1458 346h0M1457 348h0M1463 348h0M1463 352h0M1461 350h0M1461 354h0M1461 357h0M1459 358h0M1456 358h0M1461 362h0M1462 360h0M1457 365h0M1462 366h0M1459 368h0M1527 335h0M1525 334h0M1527 336h0M1523 333h0M1533 333h0M1525 331h0M1530 334h0M1537 336h0M1533 335h0M1532 332h0M1538 336h0M1533 331h0M1535 332h0M1539 332h0M1542 336h0M1533 334h0M1535 329h0M1537 333h0M1508 210h0M1508 223h0M1559 228h0M1504 328h0M1583 197h0M1583 209h0M1655 160h0M1656 168h0M1664 190h0M1511 226h0M1513 231h0M1511 232h0M1513 235h0M1512 239h0M1513 239h0M1513 242h0M1510 244h0M1511 244h0M1511 249h0M1512 250h0M1512 254h0M1511 252h0M1510 255h0M1512 259h0M1513 261h0M1532 192h0M1532 197h0M1532 198h0M1531 200h0M1532 201h0M1532 204h0M1532 206h0M1532 211h0M1533 215h0M1529 223h0M1527 224h0M1525 224h0M1526 226h0M1528 229h0M1527 229h0M1526 232h0M1531 231h0M1528 233h0M1530 236h0M1527 237h0M1529 239h0M1530 240h0M1526 241h0M1527 244h0M1525 244h0M1528 244h0M1526 246h0M1529 249h0M1525 248h0M1528 249h0M1523 253h0M1523 256h0M1526 256h0M1528 259h0M1528 260h0M1548 208h0M1546 208h0M1553 208h0M1546 210h0M1540 213h0M1538 212h0M1553 212h0M1545 214h0M1546 215h0M1550 220h0M1548 216h0M1552 217h0M1538 218h0M1547 220h0M1547 224h0M1542 223h0M1549 222h0M1546 227h0M1553 228h0M1547 223h0M1544 229h0M1549 231h0M1543 230h0M1543 232h0M1545 233h0M1548 235h0M1550 231h0M1543 235h0M1542 236h0M1546 237h0M1553 235h0M1551 236h0M1544 238h0M1549 242h0M1550 245h0M1540 241h0M1544 243h0M1543 245h0M1550 247h0M1552 247h0M1494 273h0M1500 279h0M1492 269h0M1500 272h0M1497 266h0M1497 283h0M1501 276h0M1502 278h0M1506 274h0M1500 270h0M1502 274h0M1504 273h0M1511 268h0M1509 278h0M1506 265h0M1512 268h0M1508 280h0M1511 269h0M1511 271h0M1511 275h0M1511 274h0M1519 271h0M1516 265h0M1516 279h0M1519 273h0M1521 269h0M1513 277h0M1522 264h0M1523 266h0M1524 276h0M1520 269h0M1517 278h0M1526 274h0M1526 275h0M1527 262h0M1529 262h0M1529 261h0M1525 275h0M1527 271h0M1524 270h0M1525 268h0M1529 270h0M1529 259h0M1534 277h0M1531 265h0M1534 260h0M1538 264h0M1539 260h0M1534 267h0M1534 265h0M1538 259h0M1538 258h0M1543 269h0M1537 272h0M1543 256h0M1546 269h0M1540 257h0M1546 259h0M1545 255h0M1542 265h0M1545 268h0M1544 261h0M1548 268h0M1549 262h0M1546 264h0M1553 265h0M1550 262h0M1552 252h0M1550 266h0M1556 267h0M1551 255h0M1556 262h0M1556 253h0M1551 264h0M1560 257h0M1559 261h0M1553 250h0M1558 258h0M1558 256h0M1563 263h0M1558 247h0M1557 253h0M1557 254h0M1565 259h0M1562 252h0M1567 250h0M1567 256h0M1561 243h0M1561 251h0M1564 255h0M1571 240h0M1569 245h0M1563 248h0M1567 239h0M1565 247h0M1574 249h0M1569 248h0M1489 252h0M1484 255h0M1488 256h0M1490 256h0M1485 258h0M1494 258h0M1495 258h0M1491 259h0M1490 260h0M1495 261h0M1494 262h0M1488 266h0M1488 267h0M1492 265h0M1491 268h0M1496 270h0M1494 270h0M1489 273h0M1493 274h0M1488 272h0M1492 274h0M1495 275h0M1491 276h0M1493 280h0M1491 280h0M1490 282h0M1490 281h0M1488 285h0M1495 286h0M1490 286h0M1487 290h0M1495 292h0M1489 291h0M1492 290h0M1488 292h0M1495 294h0M1493 295h0M1488 297h0M1489 299h0M1491 300h0M1490 299h0M1499 302h0M1500 303h0M1490 306h0M1500 306h0M1495 306h0M1502 310h0M1494 312h0M1501 313h0M1501 315h0M1493 316h0M1494 316h0M1495 316h0M1494 317h0M1495 321h0M1491 322h0M1495 323h0M1491 326h0M1498 327h0M1495 266h0M1501 268h0M1498 265h0M1503 269h0M1508 273h0M1509 274h0M1500 274h0M1501 273h0M1503 275h0M1508 279h0M1505 276h0M1506 279h0M1506 280h0M1514 283h0M1505 281h0M1511 285h0M1513 285h0M1508 287h0M1510 289h0M1505 290h0M1509 293h0M1507 294h0M1509 296h0M1500 298h0M1508 298h0M1506 302h0M1504 301h0M1505 301h0M1507 304h0M1501 310h0M1508 307h0M1506 312h0M1525 254h0M1518 256h0M1522 260h0M1525 262h0M1517 261h0M1518 262h0M1523 261h0M1517 263h0M1519 267h0M1522 268h0M1520 270h0M1515 271h0M1519 272h0M1512 271h0M1522 274h0M1522 277h0M1523 277h0M1517 276h0M1513 278h0M1513 280h0M1520 282h0M1517 282h0M1525 283h0M1515 286h0M1516 287h0M1517 287h0M1524 290h0M1517 288h0M1521 291h0M1525 291h0M1520 294h0M1521 293h0M1528 297h0M1524 296h0M1520 297h0M1525 300h0M1527 300h0M1528 301h0M1526 300h0M1526 260h0M1531 264h0M1523 264h0M1531 261h0M1524 264h0M1525 269h0M1532 265h0M1537 269h0M1536 272h0M1527 268h0M1535 271h0M1528 271h0M1533 276h0M1541 276h0M1533 273h0M1529 273h0M1525 277h0M1526 281h0M1530 280h0M1532 281h0M1527 279h0M1536 285h0M1535 284h0M1534 283h0M1534 285h0M1542 286h0M1542 289h0M1526 291h0M1542 292h0M1538 294h0M1533 297h0M1530 297h0M1529 296h0M1539 299h0M1533 298h0M1536 301h0M1528 304h0M1534 304h0M1541 307h0M1527 304h0M1530 306h0M1531 308h0M1539 312h0M1538 312h0M1539 311h0M1540 314h0M1533 314h0M1528 315h0M1539 313h0M1527 316h0M1529 319h0M1542 321h0M1530 321h0M1537 320h0M1539 324h0M1530 327h0M1539 326h0M1525 329h0M1527 328h0M1540 327h0M1541 331h0M1535 328h0M1530 330h0M1537 337h0M1548 257h0M1550 257h0M1547 258h0M1549 261h0M1549 266h0M1544 264h0M1552 266h0M1551 269h0M1552 274h0M1553 275h0M1548 278h0M1554 278h0M1549 280h0M1550 277h0M1549 284h0M1549 281h0M1546 288h0M1547 284h0M1549 287h0M1552 287h0M1547 288h0M1543 294h0M1546 295h0M1548 295h0M1548 293h0M1545 297h0M1547 299h0M1549 300h0M1545 302h0M1557 261h0M1558 263h0M1562 266h0M1560 262h0M1557 269h0M1560 268h0M1559 268h0M1558 272h0M1563 275h0M1562 276h0M1557 275h0M1557 278h0M1560 281h0M1558 281h0M1560 283h0M1562 285h0M1558 285h0M1562 287h0M1569 275h0M1568 277h0M1568 281h0M1569 283h0M1569 282h0M1567 286h0M1569 290h0M1567 293h0M1568 294h0M1567 294h0M1565 297h0M1568 299h0M1566 303h0M1780 209h0M1601 255h0M1643 241h0M1564 262h0M1563 262h0M1562 257h0M1561 236h0M1562 233h0M1560 231h0M1562 260h0M1562 234h0M1566 241h0M1565 236h0M1564 250h0M1563 235h0M1561 260h0M1563 255h0M1562 261h0M1560 239h0M1564 243h0M1564 237h0M1566 264h0M1561 250h0M1560 233h0M1560 251h0M1561 259h0M1561 240h0M1566 242h0M1565 264h0M1565 237h0M1566 251h0M1560 234h0M1565 263h0M1566 259h0M1563 251h0M1562 254h0M1571 222h0M1567 233h0M1567 262h0M1567 257h0M1571 227h0M1568 243h0M1568 262h0M1571 233h0M1569 259h0M1571 256h0M1570 226h0M1567 245h0M1567 234h0M1569 228h0M1569 227h0M1566 238h0M1570 248h0M1571 250h0M1567 255h0M1570 258h0M1571 225h0M1568 253h0M1572 255h0M1572 232h0M1570 236h0M1569 233h0M1568 261h0M1569 229h0M1567 235h0M1570 246h0M1574 234h0M1577 225h0M1575 254h0M1573 243h0M1580 218h0M1577 218h0M1572 239h0M1576 221h0M1574 254h0M1580 245h0M1577 246h0M1574 253h0M1580 252h0M1578 220h0M1580 232h0M1578 253h0M1577 248h0M1578 219h0M1576 224h0M1578 230h0M1573 225h0M1573 232h0M1579 217h0M1576 254h0M1573 228h0M1573 231h0M1574 219h0M1576 253h0M1576 218h0M1575 247h0M1575 237h0M1577 249h0M1578 218h0M1575 253h0M1574 222h0M1579 252h0M1576 219h0M1579 218h0M1577 253h0M1574 250h0M1577 222h0M1572 220h0M1575 226h0M1578 237h0M1578 238h0M1582 228h0M1583 221h0M1581 223h0M1585 223h0M1584 250h0M1585 252h0M1583 232h0M1586 224h0M1581 250h0M1584 247h0M1584 245h0M1586 254h0M1583 253h0M1584 241h0M1584 252h0M1584 221h0M1583 222h0M1580 240h0M1582 252h0M1585 248h0M1582 250h0M1584 243h0M1582 239h0M1581 218h0M1583 220h0M1581 248h0M1585 253h0M1582 253h0M1582 219h0M1585 238h0M1581 246h0M1581 239h0M1583 227h0M1582 227h0M1591 250h0M1592 244h0M1589 235h0M1588 243h0M1587 253h0M1591 226h0M1593 227h0M1590 250h0M1589 227h0M1588 231h0M1586 253h0M1589 252h0M1590 227h0M1594 249h0M1589 225h0M1591 240h0M1593 237h0M1592 227h0M1588 227h0M1593 228h0M1590 237h0M1586 247h0M1589 230h0M1592 232h0M1594 241h0M1593 230h0M1589 251h0M1590 228h0M1590 245h0M1592 237h0M1590 246h0M1590 230h0M1586 226h0M1587 237h0M1590 229h0M1590 239h0M1588 235h0M1588 225h0M1599 229h0M1599 230h0M1598 245h0M1596 247h0M1600 242h0M1599 242h0M1598 230h0M1596 245h0M1595 237h0M1596 238h0M1595 239h0M1597 238h0M1595 228h0M1600 239h0M1596 229h0M1596 228h0M1599 234h0M1595 247h0M1597 244h0M1599 243h0M1596 231h0M1596 240h0M1594 231h0M1598 233h0M1597 245h0M1594 237h0M1597 228h0M1595 235h0M1600 240h0M1595 232h0M1598 239h0M1601 239h0M1604 224h0M1602 240h0M1605 222h0M1601 229h0M1600 230h0M1603 230h0M1605 235h0M1606 234h0M1600 241h0M1605 227h0M1601 241h0M1603 225h0M1604 232h0M1605 223h0M1601 240h0M1604 237h0M1601 238h0M1605 226h0M1601 235h0M1603 237h0M1603 227h0M1603 235h0M1606 233h0M1603 226h0M1601 228h0M1604 228h0M1609 226h0M1613 232h0M1610 233h0M1612 230h0M1608 224h0M1608 230h0M1611 233h0M1608 222h0M1607 221h0M1609 233h0M1613 224h0M1612 233h0M1607 235h0M1608 227h0M1611 231h0M1611 225h0M1610 223h0M1611 229h0M1612 228h0M1610 234h0M1609 222h0M1611 228h0M1614 224h0M1609 225h0M1608 221h0M1607 233h0M1608 226h0M1610 232h0M1611 222h0M1610 229h0M1612 231h0M1607 234h0M1611 232h0M1613 228h0M1612 227h0M1608 234h0M1612 223h0M1609 234h0M1612 232h0M1611 226h0M1614 223h0M1615 225h0M1617 223h0M1617 222h0M1616 222h0M1619 222h0M1616 230h0M1618 222h0M1619 221h0M1615 231h0M1616 231h0M1615 230h0M1617 229h0M1620 221h0M1616 228h0M1620 225h0M1619 227h0M1617 224h0M1615 224h0M1615 232h0M1620 222h0M1619 225h0M1614 230h0M1616 226h0M1618 223h0M1616 225h0M1618 228h0M1617 227h0M1625 221h0M1623 226h0M1624 228h0M1623 222h0M1620 223h0M1624 226h0M1621 223h0M1623 224h0M1622 221h0M1622 225h0M1623 227h0M1624 222h0M1623 221h0M1624 221h0M1624 223h0M1626 221h0M1626 228h0M1625 226h0M1626 229h0M1623 228h0M1624 225h0M1620 227h0M1626 227h0M1622 227h0M1624 227h0M1622 223h0M1623 225h0M1625 223h0M1630 227h0M1627 229h0M1631 222h0M1634 226h0M1632 222h0M1633 223h0M1629 227h0M1627 225h0M1630 228h0M1629 221h0M1628 224h0M1626 225h0M1633 220h0M1628 228h0M1630 226h0M1633 226h0M1628 222h0M1634 225h0M1628 225h0M1631 225h0M1627 222h0M1633 224h0M1632 225h0M1630 222h0M1627 228h0M1633 227h0M1632 226h0M1631 221h0M1632 221h0M1631 227h0M1630 224h0M1632 220h0M1628 221h0M1630 221h0M1634 224h0M1638 223h0M1635 226h0M1638 226h0M1638 222h0M1638 224h0M1639 221h0M1636 221h0M1636 220h0M1638 221h0M1635 220h0M1637 221h0M1639 224h0M1635 222h0M1638 220h0M1637 225h0M1639 225h0M1640 224h0M1636 225h0M1638 225h0M1637 220h0M1637 223h0M1634 223h0M1636 223h0M1635 221h0M1640 225h0M1646 219h0M1645 219h0M1642 222h0M1641 223h0M1643 221h0M1643 220h0M1642 223h0M1645 228h0M1644 220h0M1644 221h0M1643 227h0M1644 227h0M1645 220h0M1643 219h0M1641 221h0M1641 222h0M1641 220h0M1642 220h0M1644 225h0M1642 224h0M1643 224h0M1646 225h0M1642 225h0M1641 225h0M1643 223h0M1652 209h0M1653 213h0M1646 228h0M1653 221h0M1653 212h0M1650 212h0M1649 217h0M1647 219h0M1651 214h0M1653 204h0M1652 211h0M1650 221h0M1649 226h0M1650 225h0M1652 224h0M1647 227h0M1653 211h0M1651 225h0M1646 222h0M1653 223h0M1651 219h0M1653 207h0M1652 208h0M1648 215h0M1650 226h0M1648 217h0M1653 222h0M1649 213h0M1647 217h0M1649 227h0M1654 204h0M1653 215h0M1646 227h0M1648 216h0M1651 209h0M1650 224h0M1648 222h0M1648 227h0M1648 225h0M1650 211h0M1647 218h0M1654 210h0M1650 214h0M1650 213h0M1662 214h0M1660 224h0M1659 202h0M1655 206h0M1655 202h0M1663 213h0M1658 203h0M1661 224h0M1663 204h0M1654 202h0M1663 205h0M1660 219h0M1661 208h0M1656 202h0M1657 223h0M1661 214h0M1662 206h0M1655 222h0M1663 214h0M1662 201h0M1659 223h0M1659 214h0M1656 210h0M1654 211h0M1655 218h0M1659 217h0M1655 203h0M1658 212h0M1655 207h0M1662 211h0M1657 212h0M1664 209h0M1662 220h0M1658 207h0M1661 202h0M1656 203h0M1656 221h0M1663 224h0M1656 216h0M1663 202h0M1655 219h0M1662 224h0M1656 223h0M1656 213h0M1661 220h0M1658 224h0M1662 218h0M1659 203h0M1663 211h0M1658 206h0M1657 215h0M1658 223h0M1662 202h0M1657 203h0M1663 212h0M1667 225h0M1670 211h0M1669 206h0M1670 209h0M1666 211h0M1669 216h0M1664 212h0M1669 213h0M1667 204h0M1664 210h0M1666 217h0M1664 202h0M1666 215h0M1664 205h0M1669 224h0M1669 215h0M1665 203h0M1666 214h0M1671 209h0M1669 218h0M1669 225h0M1672 225h0M1669 207h0M1667 224h0M1667 205h0M1664 201h0M1671 217h0M1665 208h0M1670 225h0M1668 217h0M1667 206h0M1671 221h0M1670 212h0M1666 224h0M1669 223h0M1670 223h0M1665 223h0M1670 217h0M1665 207h0M1664 211h0M1668 211h0M1670 224h0M1668 224h0M1665 224h0M1679 228h0M1674 211h0M1673 218h0M1678 221h0M1678 218h0M1679 226h0M1677 220h0M1679 219h0M1676 214h0M1672 211h0M1674 225h0M1680 220h0M1676 220h0M1678 220h0M1680 218h0M1673 225h0M1674 212h0M1678 227h0M1678 217h0M1680 219h0M1676 215h0M1672 218h0M1672 215h0M1677 226h0M1676 218h0M1679 220h0M1674 222h0M1678 219h0M1674 216h0M1674 213h0M1673 211h0M1675 218h0M1675 214h0M1678 223h0M1676 216h0M1673 220h0M1677 227h0M1678 225h0M1677 223h0M1677 217h0M1678 222h0M1679 221h0M1676 226h0M1684 218h0M1681 229h0M1685 230h0M1684 229h0M1681 218h0M1685 229h0M1682 229h0M1685 210h0M1684 228h0M1681 219h0M1685 215h0M1684 226h0M1686 230h0M1683 213h0M1681 224h0M1681 223h0M1681 222h0M1680 229h0M1683 230h0M1684 209h0M1682 214h0M1681 220h0M1683 216h0M1681 217h0M1683 215h0M1682 220h0M1683 227h0M1680 228h0M1689 230h0M1689 231h0M1686 231h0M1688 230h0M1688 221h0M1687 204h0M1687 215h0M1688 201h0M1688 228h0M1687 212h0M1688 206h0M1688 222h0M1689 199h0M1686 206h0M1687 230h0M1688 231h0M1689 225h0M1689 214h0M1686 214h0M1688 200h0M1688 203h0M1690 227h0M1692 202h0M1692 203h0M1690 212h0M1691 226h0M1690 200h0M1691 218h0M1690 215h0M1691 227h0M1689 221h0M1689 217h0M1691 212h0M1689 224h0M1690 204h0M1691 203h0M1691 202h0M1690 228h0M1691 201h0M1695 210h0M1694 213h0M1694 208h0M1692 223h0M1696 223h0M1695 222h0M1694 223h0M1693 224h0M1693 206h0M1696 215h0M1695 223h0M1695 211h0M1692 222h0M1694 224h0M1692 219h0M1695 220h0M1696 211h0M1695 209h0M1695 215h0M1693 215h0M1693 207h0M1694 210h0M1693 213h0M1696 219h0M1703 227h0M1701 216h0M1700 217h0M1697 223h0M1700 221h0M1703 223h0M1698 213h0M1701 222h0M1702 216h0M1702 224h0M1702 226h0M1702 220h0M1703 224h0M1702 221h0M1699 225h0M1697 214h0M1698 218h0M1697 213h0M1701 219h0M1701 227h0M1698 214h0M1703 229h0M1698 220h0M1703 221h0M1701 226h0M1703 219h0M1700 225h0M1700 216h0M1703 217h0M1699 216h0M1700 227h0M1700 226h0M1703 226h0M1703 216h0M1697 220h0M1696 214h0M1703 228h0M1702 225h0M1701 215h0M1697 216h0M1700 214h0M1703 218h0M1702 227h0M1699 222h0M1698 222h0M1706 217h0M1708 226h0M1704 218h0M1706 228h0M1708 219h0M1709 222h0M1710 224h0M1705 218h0M1705 224h0M1706 220h0M1711 221h0M1709 218h0M1708 217h0M1707 226h0M1704 225h0M1708 227h0M1708 223h0M1711 220h0M1705 229h0M1705 217h0M1709 224h0M1708 218h0M1708 225h0M1706 218h0M1712 217h0M1706 225h0M1705 221h0M1708 221h0M1711 223h0M1710 218h0M1708 224h0M1705 225h0M1705 223h0M1710 220h0M1706 227h0M1710 217h0M1711 217h0M1704 217h0M1704 230h0M1712 222h0M1713 222h0M1713 221h0M1719 221h0M1715 218h0M1713 220h0M1720 221h0M1718 220h0M1719 219h0M1717 219h0M1716 221h0M1712 218h0M1714 222h0M1718 221h0M1713 217h0M1719 220h0M1713 219h0M1714 220h0M1720 219h0M1715 219h0M1712 220h0M1720 220h0M1715 221h0M1716 219h0M1713 218h0M1717 221h0M1714 218h0M1717 222h0M1716 220h0M1718 219h0M1717 220h0M1727 215h0M1729 221h0M1721 219h0M1730 221h0M1730 213h0M1721 220h0M1726 216h0M1723 218h0M1727 217h0M1723 220h0M1724 216h0M1728 215h0M1724 218h0M1726 217h0M1730 218h0M1725 217h0M1722 219h0M1723 217h0M1729 217h0M1725 216h0M1726 221h0M1721 221h0M1722 220h0M1729 216h0M1730 215h0M1729 218h0M1729 220h0M1728 220h0M1727 220h0M1727 216h0M1725 220h0M1729 219h0M1724 221h0M1729 213h0M1723 219h0M1728 216h0M1726 219h0M1722 221h0M1722 218h0M1729 215h0M1730 220h0M1725 221h0M1724 220h0M1723 221h0M1726 218h0M1733 221h0M1733 210h0M1732 221h0M1733 222h0M1734 211h0M1734 206h0M1736 204h0M1732 215h0M1732 210h0M1733 211h0M1732 220h0M1735 206h0M1733 218h0M1731 220h0M1730 216h0M1735 218h0M1734 218h0M1730 212h0M1731 221h0M1731 219h0M1736 218h0M1734 208h0M1733 220h0M1736 223h0M1731 218h0M1734 209h0M1735 222h0M1736 213h0M1734 207h0M1736 220h0M1734 212h0M1731 212h0M1734 222h0M1741 200h0M1739 220h0M1738 203h0M1739 213h0M1741 206h0M1738 212h0M1738 224h0M1738 223h0M1739 201h0M1736 208h0M1740 217h0M1740 219h0M1740 201h0M1740 226h0M1740 206h0M1738 215h0M1737 223h0M1739 225h0M1740 202h0M1738 202h0M1739 224h0M1736 222h0M1737 204h0M1737 203h0M1741 207h0M1737 205h0M1737 215h0M1745 212h0M1746 221h0M1743 205h0M1744 227h0M1741 222h0M1744 220h0M1742 227h0M1744 225h0M1743 213h0M1744 223h0M1745 216h0M1745 226h0M1745 223h0M1745 228h0M1743 227h0M1744 210h0M1743 206h0M1741 204h0M1745 220h0M1745 227h0M1745 225h0M1742 205h0M1746 219h0M1743 218h0M1742 218h0M1745 214h0M1742 208h0M1744 215h0M1741 203h0M1750 220h0M1750 225h0M1748 228h0M1751 219h0M1748 230h0M1751 223h0M1748 218h0M1747 224h0M1746 226h0M1751 220h0M1747 229h0M1750 229h0M1749 225h0M1752 224h0M1751 222h0M1749 224h0M1751 229h0M1747 228h0M1746 228h0M1751 226h0M1749 223h0M1748 222h0M1752 230h0M1749 220h0M1750 219h0M1749 219h0M1748 224h0M1747 217h0M1747 225h0M1750 227h0M1747 226h0M1757 229h0M1755 233h0M1756 226h0M1756 232h0M1755 222h0M1759 227h0M1753 220h0M1756 234h0M1758 227h0M1756 233h0M1755 227h0M1758 235h0M1756 223h0M1757 223h0M1757 231h0M1757 234h0M1755 221h0M1759 236h0M1759 224h0M1755 232h0M1754 231h0M1759 233h0M1753 231h0M1754 225h0M1759 232h0M1756 222h0M1752 226h0M1759 230h0M1754 224h0M1755 226h0M1756 221h0M1752 220h0M1758 234h0M1755 223h0M1754 220h0M1756 224h0M1757 235h0M1760 237h0M1752 222h0M1754 222h0M1758 233h0M1754 221h0M1760 238h0M1765 236h0M1762 237h0M1765 245h0M1762 222h0M1760 224h0M1762 243h0M1762 242h0M1765 253h0M1764 248h0M1763 222h0M1763 246h0M1765 254h0M1761 236h0M1763 226h0M1763 229h0M1763 221h0M1764 243h0M1765 235h0M1760 223h0M1761 240h0M1764 236h0M1762 238h0M1760 233h0M1761 231h0M1761 223h0M1766 255h0M1761 233h0M1763 248h0M1763 230h0M1761 239h0M1765 252h0M1763 237h0M1761 224h0M1766 256h0M1761 229h0M1770 234h0M1767 219h0M1767 247h0M1769 260h0M1766 235h0M1771 222h0M1772 244h0M1766 232h0M1772 223h0M1771 259h0M1766 251h0M1771 230h0M1769 221h0M1769 257h0M1766 238h0M1770 262h0M1770 263h0M1768 222h0M1772 246h0M1767 241h0M1768 225h0M1767 226h0M1772 264h0M1771 231h0M1771 261h0M1770 223h0M1770 224h0M1766 248h0M1769 226h0M1772 234h0M1767 257h0M1768 257h0M1771 223h0M1767 220h0M1769 222h0M1767 237h0M1768 221h0M1773 242h0M1772 228h0M1774 240h0M1773 260h0M1774 245h0M1772 250h0M1774 249h0M1774 256h0M1775 249h0M1772 242h0M1772 263h0M1773 246h0M1775 252h0M1774 223h0M1775 255h0M1774 235h0M1774 251h0M1776 246h0M1775 225h0M1773 223h0M1774 258h0M1775 233h0M1775 238h0M1774 250h0M1774 257h0M1779 226h0M1779 220h0M1779 216h0M1778 217h0M1777 232h0M1776 247h0M1778 216h0M1779 219h0M1779 242h0M1778 226h0M1778 231h0M1779 228h0M1777 247h0M1778 245h0M1776 222h0M1778 219h0M1780 222h0M1778 244h0M1779 241h0M1779 235h0M1779 231h0M1776 221h0M1778 232h0M1784 243h0M1785 217h0M1783 227h0M1781 224h0M1786 218h0M1784 233h0M1781 228h0M1780 215h0M1781 238h0M1784 231h0M1783 215h0M1782 221h0M1782 218h0M1783 232h0M1783 216h0M1786 241h0M1786 217h0M1782 215h0M1784 240h0M1783 236h0M1784 216h0M1781 214h0M1785 236h0M1784 228h0M1786 228h0M1781 227h0M1786 245h0M1781 230h0M1785 233h0M1785 239h0M1782 217h0M1781 236h0M1780 226h0M1783 218h0M1790 232h0M1788 253h0M1787 221h0M1787 222h0M1791 263h0M1789 253h0M1787 226h0M1791 259h0M1789 256h0M1789 225h0M1788 249h0M1789 255h0M1787 238h0M1786 227h0M1788 222h0M1790 256h0M1787 249h0M1790 228h0M1788 229h0M1788 242h0M1789 246h0M1789 228h0M1789 254h0M1787 220h0M1787 225h0M1786 238h0M1791 228h0M1790 258h0M1791 260h0M1789 226h0M1790 240h0M1786 231h0M1787 244h0M1791 230h0M1790 227h0M1788 248h0M1786 223h0M1793 242h0M1795 262h0M1793 264h0M1794 237h0M1794 244h0M1795 231h0M1798 227h0M1793 251h0M1797 232h0M1793 231h0M1796 240h0M1795 230h0M1794 242h0M1797 230h0M1794 236h0M1796 261h0M1795 235h0M1794 262h0M1794 258h0M1794 263h0M1798 229h0M1795 237h0M1798 261h0M1797 229h0M1792 232h0M1796 236h0M1793 232h0M1795 229h0M1793 237h0M1792 250h0M1797 228h0M1796 260h0M1798 228h0M1792 264h0M1796 231h0M1796 262h0M1796 229h0M1801 218h0M1803 212h0M1803 217h0M1799 245h0M1800 221h0M1802 216h0M1803 234h0M1798 260h0M1802 217h0M1804 222h0M1801 220h0M1802 243h0M1802 214h0M1799 232h0M1798 254h0M1799 227h0M1804 219h0M1801 229h0M1803 236h0M1800 223h0M1800 236h0M1799 252h0M1802 230h0M1801 239h0M1800 222h0M1799 226h0M1798 250h0M1803 227h0M1799 225h0M1803 214h0M1802 238h0M1800 253h0M1799 236h0M1803 241h0M1798 259h0M1803 233h0M1798 247h0M1799 224h0M1808 205h0M1809 203h0M1810 220h0M1807 224h0M1809 227h0M1807 229h0M1807 231h0M1805 208h0M1808 216h0M1809 212h0M1806 206h0M1804 226h0M1804 237h0M1808 229h0M1805 226h0M1808 214h0M1804 225h0M1809 216h0M1806 208h0M1807 208h0M1805 229h0M1805 220h0M1805 218h0M1805 233h0M1805 221h0M1804 209h0M1809 205h0M1808 208h0M1807 220h0M1805 223h0M1810 202h0M1805 219h0M1807 209h0M1805 234h0M1809 226h0M1806 220h0M1805 207h0M1810 225h0M1814 238h0M1811 218h0M1813 205h0M1812 222h0M1811 227h0M1812 203h0M1812 202h0M1813 233h0M1812 226h0M1815 238h0M1810 224h0M1811 228h0M1812 205h0M1810 201h0M1814 236h0M1815 239h0M1813 208h0M1814 204h0M1813 215h0M1811 202h0M1812 216h0M1813 232h0M1814 217h0M1812 231h0M1812 211h0M1819 222h0M1819 219h0M1818 212h0M1816 215h0M1819 199h0M1817 226h0M1816 212h0M1818 207h0M1818 228h0M1820 216h0M1817 220h0M1815 220h0M1819 200h0M1816 236h0M1819 221h0M1816 203h0M1818 208h0M1817 202h0M1815 233h0M1815 204h0M1816 230h0M1816 225h0M1820 204h0M1815 203h0M1817 228h0M1816 217h0M1820 218h0M1818 220h0M1816 205h0M1819 220h0M1818 214h0M1821 216h0M1824 213h0M1824 210h0M1825 214h0M1821 217h0M1823 210h0M1824 214h0M1825 220h0M1823 216h0M1825 219h0M1824 211h0M1821 202h0M1823 218h0M1823 206h0M1822 203h0M1822 208h0M1825 213h0M1825 217h0M1824 219h0M1823 208h0M1824 217h0M1823 214h0M1822 206h0M1823 215h0M1820 199h0M1822 217h0M1820 215h0M1822 212h0M1826 218h0M1822 218h0M1821 203h0M1832 240h0M1829 224h0M1832 235h0M1830 235h0M1826 216h0M1832 223h0M1829 227h0M1827 216h0M1830 234h0M1829 225h0M1827 217h0M1829 230h0M1831 225h0M1828 218h0M1831 229h0M1828 228h0M1828 222h0M1827 222h0M1827 221h0M1826 217h0M1828 219h0M1828 220h0M1829 229h0M1827 223h0M1828 227h0M1826 215h0M1832 239h0M1829 220h0M1831 230h0M1828 226h0M1827 218h0M1828 223h0M1831 223h0M1831 238h0M1829 219h0M1837 218h0M1833 238h0M1839 229h0M1835 238h0M1834 224h0M1835 239h0M1837 217h0M1839 216h0M1839 215h0M1835 234h0M1837 220h0M1839 224h0M1840 218h0M1836 230h0M1836 235h0M1840 214h0M1835 221h0M1839 225h0M1834 226h0M1834 239h0M1839 237h0M1840 226h0M1839 234h0M1835 226h0M1840 220h0M1833 223h0M1838 217h0M1834 234h0M1834 222h0M1832 231h0M1832 224h0M1834 227h0M1833 224h0M1838 237h0M1833 239h0M1832 228h0M1835 233h0M1835 232h0M1840 237h0M1838 215h0M1834 240h0M1833 227h0M1836 239h0M1844 223h0M1840 236h0M1843 213h0M1842 214h0M1841 238h0M1844 240h0M1840 224h0M1846 211h0M1843 216h0M1844 245h0M1846 250h0M1841 228h0M1841 239h0M1842 216h0M1842 221h0M1845 246h0M1846 247h0M1841 229h0M1842 240h0M1840 235h0M1844 212h0M1841 227h0M1843 244h0M1844 220h0M1840 222h0M1842 233h0M1843 221h0M1844 215h0M1846 218h0M1846 213h0M1845 212h0M1845 245h0M1849 217h0M1849 238h0M1852 239h0M1849 223h0M1851 222h0M1848 248h0M1850 247h0M1848 249h0M1851 221h0M1849 216h0M1850 229h0M1849 242h0M1848 215h0M1847 250h0M1852 229h0M1847 220h0M1848 232h0M1849 225h0M1846 212h0M1852 232h0M1851 244h0M1846 249h0M1848 228h0M1847 227h0M1851 220h0M1851 223h0M1849 222h0M1851 242h0M1849 241h0M1848 225h0M1848 216h0M1846 233h0M1849 218h0M1847 248h0M1852 245h0M1856 226h0M1853 231h0M1853 228h0M1854 246h0M1855 225h0M1856 228h0M1856 239h0M1855 232h0M1857 242h0M1856 248h0M1854 233h0M1853 239h0M1858 231h0M1853 230h0M1857 238h0M1853 245h0M1855 227h0M1854 245h0M1856 227h0M1858 227h0M1855 233h0M1855 246h0M1857 231h0M1853 244h0M1854 244h0M1856 243h0M1858 242h0M1857 227h0M1857 237h0M1854 241h0M1855 242h0M1854 226h0M1854 231h0M1853 225h0M1852 225h0M1856 246h0M1857 228h0M1852 236h0M1866 238h0M1859 248h0M1864 233h0M1858 239h0M1864 249h0M1863 245h0M1864 230h0M1859 246h0M1865 249h0M1866 241h0M1863 231h0M1862 233h0M1862 230h0M1860 228h0M1862 248h0M1859 228h0M1864 235h0M1861 243h0M1863 230h0M1858 228h0M1859 242h0M1860 229h0M1862 240h0M1863 246h0M1865 241h0M1865 234h0M1862 244h0M1861 232h0M1866 235h0M1861 241h0M1860 241h0M1865 247h0M1859 237h0M1863 244h0M1859 240h0M1859 244h0M1858 243h0M1858 230h0M1859 247h0M1862 249h0M1860 236h0M1861 242h0M1863 237h0M1866 231h0M1865 232h0M1859 229h0M1858 248h0M1865 243h0M1872 233h0M1867 234h0M1868 231h0M1870 238h0M1871 229h0M1870 239h0M1868 232h0M1871 230h0M1868 242h0M1867 231h0M1868 244h0M1869 241h0M1870 235h0M1867 243h0M1871 237h0M1870 240h0M1866 232h0M1867 232h0M1869 235h0M1871 232h0M1866 248h0M1866 233h0M1867 246h0M1867 236h0M1868 241h0M1870 236h0M1871 234h0M1879 227h0M1878 235h0M1879 228h0M1876 229h0M1874 231h0M1879 232h0M1878 233h0M1873 230h0M1876 228h0M1880 227h0M1877 228h0M1876 234h0M1880 234h0M1880 226h0M1874 229h0M1872 230h0M1874 235h0M1874 230h0M1875 229h0M1875 235h0M1877 235h0M1878 236h0M1876 235h0M1876 230h0M1876 232h0M1874 234h0M1877 233h0M1880 229h0M1876 236h0M1877 236h0M1880 228h0M1876 231h0M1874 228h0M1888 237h0M1882 227h0M1887 232h0M1884 236h0M1881 227h0M1888 229h0M1887 229h0M1884 229h0M1883 230h0M1885 236h0M1880 237h0M1882 234h0M1882 236h0M1881 236h0M1883 235h0M1883 228h0M1883 236h0M1887 230h0M1881 234h0M1881 226h0M1881 235h0M1886 231h0M1886 232h0M1883 232h0M1880 236h0M1883 227h0M1888 232h0M1888 234h0M1882 229h0M1882 231h0M1883 233h0M1881 229h0M1885 237h0M1885 229h0M1885 233h0M1889 235h0M1889 236h0M1891 215h0M1890 226h0M1890 221h0M1890 237h0M1891 236h0M1893 237h0M1891 237h0M1889 226h0M1891 233h0M1892 214h0M1892 220h0M1889 228h0M1889 227h0M1893 211h0M1893 226h0M1889 237h0M1892 219h0M1893 217h0M1892 217h0M1891 219h0M1889 225h0M1892 237h0M1893 210h0M1892 236h0M1890 222h0M1891 230h0M1889 232h0M1899 213h0M1898 233h0M1897 211h0M1898 243h0M1899 243h0M1895 239h0M1897 218h0M1893 234h0M1898 212h0M1896 240h0M1894 208h0M1899 235h0M1894 238h0M1895 220h0M1900 215h0M1898 221h0M1896 239h0M1898 240h0M1896 218h0M1898 231h0M1895 226h0M1896 234h0M1896 223h0M1896 211h0M1897 212h0M1899 242h0M1894 237h0M1895 217h0M1896 210h0M1900 236h0M1894 221h0M1899 244h0M1898 213h0M1897 213h0M1899 239h0M1895 237h0M1896 225h0M1896 235h0M1897 240h0M1895 210h0M1893 232h0M1898 242h0M1900 244h0M1901 222h0M1903 243h0M1907 221h0M1908 224h0M1901 233h0M1906 223h0M1907 238h0M1907 245h0M1907 244h0M1905 214h0M1904 215h0M1905 231h0M1905 228h0M1906 236h0M1902 245h0M1902 241h0M1903 245h0M1906 225h0M1908 228h0M1905 237h0M1905 241h0M1907 232h0M1904 244h0M1904 232h0M1901 244h0M1907 216h0M1907 217h0M1907 231h0M1907 241h0M1907 223h0M1906 221h0M1901 213h0M1907 215h0M1903 215h0M1902 233h0M1902 223h0M1905 226h0M1901 242h0M1902 236h0M1901 245h0M1905 215h0M1900 240h0M1905 245h0M1905 244h0M1902 244h0M1906 216h0M1908 244h0M1908 216h0M1901 214h0M1902 239h0M1905 220h0M1905 243h0M1912 235h0M1911 212h0M1910 229h0M1912 225h0M1911 225h0M1911 216h0M1912 238h0M1910 214h0M1911 221h0M1909 215h0M1909 229h0M1908 235h0M1913 235h0M1912 214h0M1909 243h0M1912 223h0M1909 225h0M1912 226h0M1909 232h0M1910 215h0M1911 239h0M1911 210h0M1910 227h0M1909 241h0M1913 209h0M1908 215h0M1912 211h0M1913 237h0M1910 213h0M1916 226h0M1914 212h0M1914 215h0M1916 219h0M1913 236h0M1914 222h0M1916 236h0M1913 234h0M1915 236h0M1914 237h0M1916 229h0M1914 232h0M1913 219h0M1915 217h0M1914 217h0M1914 219h0M1914 211h0M1616 238h0M1616 236h0M1616 239h0M1616 240h0M1615 242h0M1615 246h0M1617 248h0M1614 251h0M1617 249h0M1616 255h0M1616 257h0M1631 233h0M1631 234h0M1629 235h0M1628 240h0M1628 241h0M1629 243h0M1629 245h0M1631 246h0M1629 249h0M1628 253h0M1630 252h0M1629 253h0M1628 257h0M1630 259h0M1629 261h0M1651 231h0M1650 233h0M1651 234h0M1648 239h0M1648 241h0M1650 243h0M1645 243h0M1646 247h0M1651 247h0M1646 253h0M1666 228h0M1668 229h0M1664 233h0M1669 235h0M1668 235h0M1666 238h0M1664 239h0M1665 243h0M1665 242h0M1587 261h0M1589 263h0M1585 261h0M1587 262h0M1595 263h0M1722 205h0M1721 205h0M1722 206h0M1721 210h0M1722 209h0M1723 211h0M1722 214h0M1721 217h0M1766 261h0M1768 260h0M1766 265h0M1767 267h0M1768 266h0M1770 268h0M1772 269h0M1770 271h0M1768 273h0M1771 272h0M1769 275h0M1857 251h0M1859 253h0M1857 257h0M1859 259h0M1857 262h0M1857 263h0M1857 266h0M1865 252h0M1867 255h0M1867 254h0M1865 255h0M1867 259h0M1864 260h0M1866 263h0M1866 265h0M1902 246h0M1902 250h0M1900 251h0M1901 253h0M1901 254h0M1902 257h0M1900 256h0M1903 257h0M1901 259h0M1901 260h0M1899 263h0M1901 263h0M1903 263h0M1898 265h0M1901 267h0M1903 268h0M1565 266h0M1564 270h0M1567 270h0M1563 271h0M1563 276h0M1566 280h0M1567 278h0M1565 282h0M1566 287h0M1567 285h0M1567 289h0M1567 291h0M1568 293h0M1567 296h0M1569 298h0M290 373h0M389 370h0M327 387h0M328 388h0M328 391h0M328 394h0M330 394h0M330 397h0M329 397h0M328 399h0M329 402h0M328 402h0M329 404h0M329 406h0M328 408h0M329 409h0M329 411h0M330 410h0M329 414h0M329 416h0M329 419h0M330 420h0M330 421h0M328 422h0M330 423h0M330 427h0M328 426h0M328 430h0M329 431h0M329 434h0M328 435h0M328 437h0M329 437h0M328 439h0" fill="none" stroke="#0000ff" stroke-width="6" stroke-linecap="round" shape-rendering="crispEdges" clip-path="url(#pc)"/>
<path d="M84 61h0M84 70h0M85 75h0M85 79h0M85 88h0M85 98h0M85 107h0M86 114h0M86 120h0M88 121h0M87 125h0M88 128h0M87 132h0M88 134h0M86 137h0M86 140h0M85 125h0M85 130h0M85 135h0M84 141h0" fill="none" stroke="#ff0000" stroke-width="6" stroke-linecap="round" shape-rendering="crispEdges" clip-path="url(#pc)"/>
<g font-family="'Liberation Sans', sans-serif" fill="#000" stroke="#f8f8f8" stroke-width="0.3" shape-rendering="auto" text-rendering="geometricPrecision">
<text x="78.5" y="104" font-size="21" text-anchor="end" letter-spacing="0.8">10</text>
<text x="78.5" y="250" font-size="21" text-anchor="end" letter-spacing="0.8">0</text>
<text x="78.5" y="395" font-size="21" text-anchor="end" letter-spacing="0.8">−10</text>
<text x="78.5" y="540" font-size="21" text-anchor="end" letter-spacing="0.8">−20</text>
<text x="78.5" y="686" font-size="21" text-anchor="end" letter-spacing="0.8">−30</text>
<text x="479.2" y="770" font-size="21" text-anchor="middle" letter-spacing="1">300</text>
<text x="955.6" y="770" font-size="21" text-anchor="middle" letter-spacing="1">400</text>
<text x="1431.9" y="770" font-size="21" text-anchor="middle" letter-spacing="1">500</text>
<text x="1908.1" y="770" font-size="21" text-anchor="middle" letter-spacing="1">600</text>
<text x="940" y="796" font-size="21" textLength="119" lengthAdjust="spacing">Day Of Year</text>
<text transform="translate(18.5,410.5) rotate(-90)" font-size="21" textLength="20.5" lengthAdjust="spacing">Ta</text>
<text x="638" y="48" font-size="26.5" textLength="242.0" lengthAdjust="spacing">300234066344820:</text>
<text x="894.8" y="48" font-size="26.5" textLength="108.4" lengthAdjust="spacing">Removed</text>
<text x="1018" y="48" font-size="26.5" textLength="25.2" lengthAdjust="spacing">Ta</text>
<text x="1060" y="48" font-size="26.5" textLength="74.0" lengthAdjust="spacing">(RED);</text>
<text x="1150" y="48" font-size="26.5" textLength="72.8" lengthAdjust="spacing">Level2</text>
<text x="1238.8" y="48" font-size="26.5" textLength="25.2" lengthAdjust="spacing">Ta</text>
<text x="1280" y="48" font-size="26.5" textLength="81.2" lengthAdjust="spacing">(BLUE)</text>
</g>
</svg>
</body></html>
